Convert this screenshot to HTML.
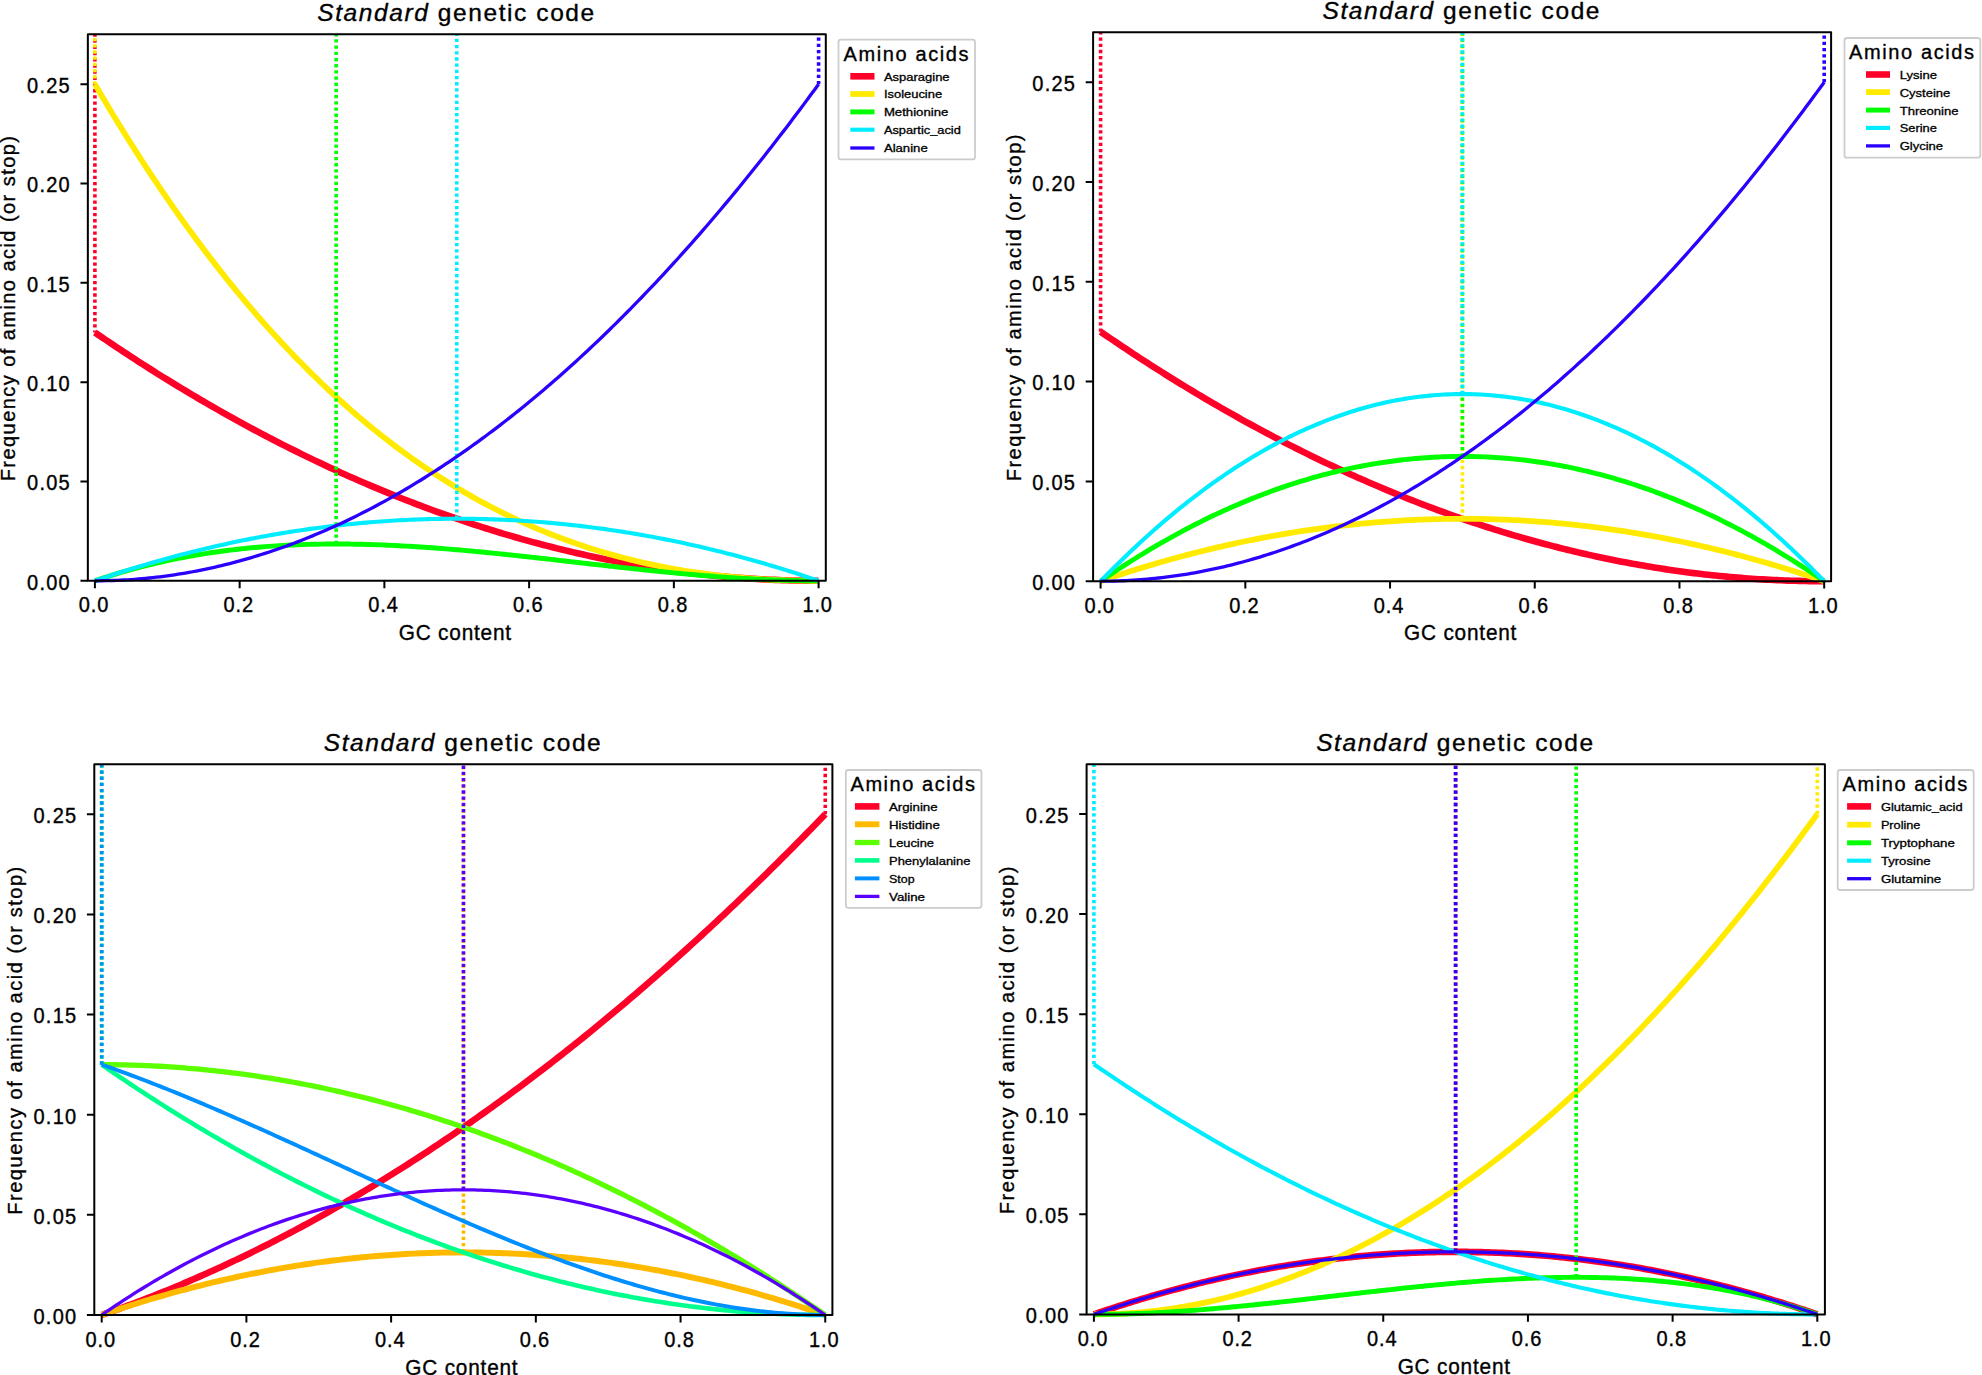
<!DOCTYPE html>
<html lang="en">
<head>
<meta charset="utf-8">
<title>Standard genetic code - amino acid frequency vs GC content</title>
<style>
html,body{margin:0;padding:0;background:#fff;}
body{width:1982px;height:1375px;overflow:hidden;}
svg{display:block;}
text{font-family:'Liberation Sans', sans-serif;fill:#000;}
</style>
</head>
<body>
<svg width="1982" height="1375" viewBox="0 0 1982 1375">
<rect width="1982" height="1375" fill="#fff"/>
<g id="chart1">
<path d="M94.9 332.5 L98.52 334.98 L102.14 337.44 L105.76 339.89 L109.37 342.33 L112.99 344.76 L116.61 347.17 L120.23 349.58 L123.85 351.97 L127.47 354.34 L131.09 356.71 L134.7 359.06 L138.32 361.4 L141.94 363.73 L145.56 366.05 L149.18 368.35 L152.8 370.64 L156.41 372.92 L160.03 375.18 L163.65 377.44 L167.27 379.68 L170.89 381.91 L174.51 384.12 L178.13 386.33 L181.74 388.52 L185.36 390.7 L188.98 392.86 L192.6 395.02 L196.22 397.16 L199.84 399.29 L203.46 401.4 L207.07 403.51 L210.69 405.6 L214.31 407.68 L217.93 409.75 L221.55 411.8 L225.17 413.84 L228.78 415.87 L232.4 417.89 L236.02 419.9 L239.64 421.89 L243.26 423.87 L246.88 425.84 L250.5 427.79 L254.11 429.73 L257.73 431.66 L261.35 433.58 L264.97 435.49 L268.59 437.38 L272.21 439.26 L275.83 441.13 L279.44 442.99 L283.06 444.83 L286.68 446.66 L290.3 448.48 L293.92 450.29 L297.54 452.08 L301.15 453.86 L304.77 455.63 L308.39 457.39 L312.01 459.13 L315.63 460.86 L319.25 462.58 L322.87 464.29 L326.48 465.99 L330.1 467.67 L333.72 469.34 L337.34 471 L340.96 472.64 L344.58 474.27 L348.19 475.89 L351.81 477.5 L355.43 479.1 L359.05 480.68 L362.67 482.25 L366.29 483.81 L369.91 485.35 L373.52 486.89 L377.14 488.41 L380.76 489.92 L384.38 491.41 L388 492.9 L391.62 494.37 L395.24 495.83 L398.85 497.27 L402.47 498.71 L406.09 500.13 L409.71 501.54 L413.33 502.93 L416.95 504.32 L420.57 505.69 L424.18 507.05 L427.8 508.4 L431.42 509.73 L435.04 511.05 L438.66 512.36 L442.28 513.66 L445.89 514.94 L449.51 516.22 L453.13 517.48 L456.75 518.72 L460.37 519.96 L463.99 521.18 L467.61 522.39 L471.22 523.59 L474.84 524.78 L478.46 525.95 L482.08 527.11 L485.7 528.26 L489.32 529.4 L492.94 530.52 L496.55 531.63 L500.17 532.73 L503.79 533.82 L507.41 534.89 L511.03 535.95 L514.65 537 L518.26 538.04 L521.88 539.06 L525.5 540.07 L529.12 541.07 L532.74 542.06 L536.36 543.03 L539.98 544 L543.59 544.95 L547.21 545.88 L550.83 546.81 L554.45 547.72 L558.07 548.62 L561.69 549.51 L565.31 550.38 L568.92 551.25 L572.54 552.1 L576.16 552.93 L579.78 553.76 L583.4 554.57 L587.02 555.37 L590.63 556.16 L594.25 556.94 L597.87 557.7 L601.49 558.45 L605.11 559.19 L608.73 559.92 L612.35 560.63 L615.96 561.33 L619.58 562.02 L623.2 562.7 L626.82 563.36 L630.44 564.01 L634.06 564.65 L637.68 565.28 L641.29 565.9 L644.91 566.5 L648.53 567.09 L652.15 567.66 L655.77 568.23 L659.39 568.78 L663 569.32 L666.62 569.85 L670.24 570.37 L673.86 570.87 L677.48 571.36 L681.1 571.84 L684.72 572.3 L688.33 572.76 L691.95 573.2 L695.57 573.62 L699.19 574.04 L702.81 574.44 L706.43 574.83 L710.04 575.21 L713.66 575.58 L717.28 575.93 L720.9 576.27 L724.52 576.6 L728.14 576.92 L731.76 577.22 L735.37 577.52 L738.99 577.8 L742.61 578.06 L746.23 578.32 L749.85 578.56 L753.47 578.79 L757.09 579.01 L760.7 579.21 L764.32 579.4 L767.94 579.58 L771.56 579.75 L775.18 579.91 L778.8 580.05 L782.41 580.18 L786.03 580.3 L789.65 580.4 L793.27 580.5 L796.89 580.58 L800.51 580.64 L804.13 580.7 L807.74 580.74 L811.36 580.78 L814.98 580.79 L818.6 580.8" fill="none" stroke="#ff0029" stroke-width="6.6" stroke-linejoin="round" stroke-linecap="butt"/>
<path d="M94.9 332.5 V34.3" fill="none" stroke="#ff0029" stroke-width="3.6" stroke-dasharray="3.3 2.89" stroke-dashoffset="1.3"/>
<path d="M94.9 84.2 L98.52 90.38 L102.14 96.52 L105.76 102.6 L109.37 108.63 L112.99 114.62 L116.61 120.56 L120.23 126.45 L123.85 132.29 L127.47 138.08 L131.09 143.82 L134.7 149.52 L138.32 155.17 L141.94 160.77 L145.56 166.32 L149.18 171.83 L152.8 177.29 L156.41 182.7 L160.03 188.07 L163.65 193.39 L167.27 198.67 L170.89 203.89 L174.51 209.08 L178.13 214.22 L181.74 219.31 L185.36 224.35 L188.98 229.36 L192.6 234.31 L196.22 239.22 L199.84 244.09 L203.46 248.92 L207.07 253.7 L210.69 258.43 L214.31 263.12 L217.93 267.77 L221.55 272.38 L225.17 276.94 L228.78 281.46 L232.4 285.93 L236.02 290.37 L239.64 294.76 L243.26 299.11 L246.88 303.41 L250.5 307.68 L254.11 311.9 L257.73 316.09 L261.35 320.23 L264.97 324.33 L268.59 328.38 L272.21 332.4 L275.83 336.38 L279.44 340.32 L283.06 344.21 L286.68 348.07 L290.3 351.89 L293.92 355.67 L297.54 359.4 L301.15 363.1 L304.77 366.76 L308.39 370.38 L312.01 373.97 L315.63 377.51 L319.25 381.02 L322.87 384.48 L326.48 387.91 L330.1 391.3 L333.72 394.66 L337.34 397.98 L340.96 401.26 L344.58 404.5 L348.19 407.7 L351.81 410.87 L355.43 414.01 L359.05 417.1 L362.67 420.16 L366.29 423.19 L369.91 426.18 L373.52 429.13 L377.14 432.05 L380.76 434.93 L384.38 437.78 L388 440.59 L391.62 443.37 L395.24 446.12 L398.85 448.83 L402.47 451.5 L406.09 454.14 L409.71 456.75 L413.33 459.33 L416.95 461.87 L420.57 464.38 L424.18 466.85 L427.8 469.3 L431.42 471.71 L435.04 474.09 L438.66 476.43 L442.28 478.75 L445.89 481.03 L449.51 483.28 L453.13 485.5 L456.75 487.69 L460.37 489.84 L463.99 491.97 L467.61 494.07 L471.22 496.13 L474.84 498.17 L478.46 500.17 L482.08 502.15 L485.7 504.09 L489.32 506.01 L492.94 507.89 L496.55 509.75 L500.17 511.58 L503.79 513.38 L507.41 515.15 L511.03 516.89 L514.65 518.6 L518.26 520.29 L521.88 521.95 L525.5 523.58 L529.12 525.18 L532.74 526.76 L536.36 528.3 L539.98 529.83 L543.59 531.32 L547.21 532.79 L550.83 534.23 L554.45 535.65 L558.07 537.04 L561.69 538.4 L565.31 539.74 L568.92 541.05 L572.54 542.34 L576.16 543.6 L579.78 544.84 L583.4 546.05 L587.02 547.24 L590.63 548.4 L594.25 549.54 L597.87 550.66 L601.49 551.75 L605.11 552.82 L608.73 553.86 L612.35 554.88 L615.96 555.88 L619.58 556.86 L623.2 557.81 L626.82 558.74 L630.44 559.65 L634.06 560.54 L637.68 561.4 L641.29 562.24 L644.91 563.07 L648.53 563.87 L652.15 564.64 L655.77 565.4 L659.39 566.14 L663 566.85 L666.62 567.55 L670.24 568.23 L673.86 568.88 L677.48 569.52 L681.1 570.13 L684.72 570.73 L688.33 571.31 L691.95 571.87 L695.57 572.4 L699.19 572.92 L702.81 573.43 L706.43 573.91 L710.04 574.38 L713.66 574.82 L717.28 575.25 L720.9 575.66 L724.52 576.06 L728.14 576.44 L731.76 576.8 L735.37 577.14 L738.99 577.47 L742.61 577.78 L746.23 578.07 L749.85 578.35 L753.47 578.61 L757.09 578.85 L760.7 579.08 L764.32 579.3 L767.94 579.5 L771.56 579.68 L775.18 579.85 L778.8 580.01 L782.41 580.15 L786.03 580.27 L789.65 580.39 L793.27 580.49 L796.89 580.57 L800.51 580.64 L804.13 580.7 L807.74 580.74 L811.36 580.77 L814.98 580.79 L818.6 580.8" fill="none" stroke="#ffea00" stroke-width="5.77" stroke-linejoin="round" stroke-linecap="butt"/>
<path d="M94.9 84.2 V34.3" fill="none" stroke="#ffea00" stroke-width="3.6" stroke-dasharray="3.3 2.89" stroke-dashoffset="0.4"/>
<path d="M94.9 580.8 L98.52 579.57 L102.14 578.37 L105.76 577.19 L109.37 576.03 L112.99 574.9 L116.61 573.79 L120.23 572.71 L123.85 571.65 L127.47 570.61 L131.09 569.6 L134.7 568.6 L138.32 567.64 L141.94 566.69 L145.56 565.77 L149.18 564.87 L152.8 563.99 L156.41 563.13 L160.03 562.29 L163.65 561.48 L167.27 560.69 L170.89 559.92 L174.51 559.17 L178.13 558.44 L181.74 557.73 L185.36 557.04 L188.98 556.37 L192.6 555.72 L196.22 555.09 L199.84 554.48 L203.46 553.89 L207.07 553.32 L210.69 552.77 L214.31 552.24 L217.93 551.72 L221.55 551.23 L225.17 550.75 L228.78 550.29 L232.4 549.85 L236.02 549.42 L239.64 549.02 L243.26 548.63 L246.88 548.26 L250.5 547.9 L254.11 547.57 L257.73 547.24 L261.35 546.94 L264.97 546.65 L268.59 546.38 L272.21 546.12 L275.83 545.88 L279.44 545.66 L283.06 545.45 L286.68 545.25 L290.3 545.07 L293.92 544.91 L297.54 544.76 L301.15 544.62 L304.77 544.5 L308.39 544.39 L312.01 544.3 L315.63 544.22 L319.25 544.15 L322.87 544.1 L326.48 544.06 L330.1 544.03 L333.72 544.02 L337.34 544.02 L340.96 544.03 L344.58 544.05 L348.19 544.08 L351.81 544.13 L355.43 544.19 L359.05 544.26 L362.67 544.34 L366.29 544.43 L369.91 544.53 L373.52 544.64 L377.14 544.77 L380.76 544.9 L384.38 545.04 L388 545.2 L391.62 545.36 L395.24 545.54 L398.85 545.72 L402.47 545.91 L406.09 546.11 L409.71 546.32 L413.33 546.54 L416.95 546.77 L420.57 547 L424.18 547.24 L427.8 547.49 L431.42 547.75 L435.04 548.02 L438.66 548.29 L442.28 548.57 L445.89 548.86 L449.51 549.15 L453.13 549.46 L456.75 549.76 L460.37 550.08 L463.99 550.4 L467.61 550.72 L471.22 551.05 L474.84 551.39 L478.46 551.73 L482.08 552.08 L485.7 552.43 L489.32 552.78 L492.94 553.15 L496.55 553.51 L500.17 553.88 L503.79 554.25 L507.41 554.63 L511.03 555.01 L514.65 555.4 L518.26 555.78 L521.88 556.17 L525.5 556.57 L529.12 556.96 L532.74 557.36 L536.36 557.76 L539.98 558.17 L543.59 558.57 L547.21 558.98 L550.83 559.38 L554.45 559.79 L558.07 560.21 L561.69 560.62 L565.31 561.03 L568.92 561.44 L572.54 561.86 L576.16 562.27 L579.78 562.68 L583.4 563.1 L587.02 563.51 L590.63 563.92 L594.25 564.34 L597.87 564.75 L601.49 565.16 L605.11 565.57 L608.73 565.97 L612.35 566.38 L615.96 566.78 L619.58 567.19 L623.2 567.59 L626.82 567.98 L630.44 568.38 L634.06 568.77 L637.68 569.16 L641.29 569.55 L644.91 569.93 L648.53 570.31 L652.15 570.69 L655.77 571.06 L659.39 571.43 L663 571.79 L666.62 572.15 L670.24 572.5 L673.86 572.85 L677.48 573.2 L681.1 573.54 L684.72 573.87 L688.33 574.2 L691.95 574.53 L695.57 574.84 L699.19 575.16 L702.81 575.46 L706.43 575.76 L710.04 576.05 L713.66 576.34 L717.28 576.61 L720.9 576.89 L724.52 577.15 L728.14 577.41 L731.76 577.65 L735.37 577.89 L738.99 578.13 L742.61 578.35 L746.23 578.57 L749.85 578.77 L753.47 578.97 L757.09 579.16 L760.7 579.34 L764.32 579.51 L767.94 579.67 L771.56 579.82 L775.18 579.96 L778.8 580.09 L782.41 580.21 L786.03 580.32 L789.65 580.42 L793.27 580.51 L796.89 580.58 L800.51 580.65 L804.13 580.7 L807.74 580.74 L811.36 580.78 L814.98 580.79 L818.6 580.8" fill="none" stroke="#00ff00" stroke-width="4.95" stroke-linejoin="round" stroke-linecap="butt"/>
<path d="M336.13 544.01 V34.3" fill="none" stroke="#00ff00" stroke-width="3.6" stroke-dasharray="3.3 2.89" stroke-dashoffset="0"/>
<path d="M94.9 580.8 L98.52 579.56 L102.14 578.34 L105.76 577.13 L109.37 575.93 L112.99 574.75 L116.61 573.57 L120.23 572.41 L123.85 571.27 L127.47 570.13 L131.09 569.01 L134.7 567.89 L138.32 566.8 L141.94 565.71 L145.56 564.64 L149.18 563.57 L152.8 562.53 L156.41 561.49 L160.03 560.46 L163.65 559.45 L167.27 558.45 L170.89 557.47 L174.51 556.49 L178.13 555.53 L181.74 554.58 L185.36 553.64 L188.98 552.72 L192.6 551.8 L196.22 550.9 L199.84 550.02 L203.46 549.14 L207.07 548.28 L210.69 547.43 L214.31 546.59 L217.93 545.76 L221.55 544.95 L225.17 544.15 L228.78 543.36 L232.4 542.59 L236.02 541.82 L239.64 541.07 L243.26 540.33 L246.88 539.61 L250.5 538.89 L254.11 538.19 L257.73 537.5 L261.35 536.83 L264.97 536.16 L268.59 535.51 L272.21 534.87 L275.83 534.24 L279.44 533.63 L283.06 533.03 L286.68 532.44 L290.3 531.86 L293.92 531.3 L297.54 530.74 L301.15 530.2 L304.77 529.68 L308.39 529.16 L312.01 528.66 L315.63 528.17 L319.25 527.69 L322.87 527.22 L326.48 526.77 L330.1 526.33 L333.72 525.9 L337.34 525.48 L340.96 525.08 L344.58 524.69 L348.19 524.31 L351.81 523.95 L355.43 523.59 L359.05 523.25 L362.67 522.92 L366.29 522.6 L369.91 522.3 L373.52 522.01 L377.14 521.73 L380.76 521.46 L384.38 521.21 L388 520.97 L391.62 520.74 L395.24 520.52 L398.85 520.31 L402.47 520.12 L406.09 519.94 L409.71 519.77 L413.33 519.62 L416.95 519.48 L420.57 519.35 L424.18 519.23 L427.8 519.12 L431.42 519.03 L435.04 518.95 L438.66 518.88 L442.28 518.82 L445.89 518.78 L449.51 518.75 L453.13 518.73 L456.75 518.72 L460.37 518.73 L463.99 518.75 L467.61 518.78 L471.22 518.82 L474.84 518.88 L478.46 518.95 L482.08 519.03 L485.7 519.12 L489.32 519.23 L492.94 519.35 L496.55 519.48 L500.17 519.62 L503.79 519.77 L507.41 519.94 L511.03 520.12 L514.65 520.31 L518.26 520.52 L521.88 520.74 L525.5 520.97 L529.12 521.21 L532.74 521.46 L536.36 521.73 L539.98 522.01 L543.59 522.3 L547.21 522.6 L550.83 522.92 L554.45 523.25 L558.07 523.59 L561.69 523.95 L565.31 524.31 L568.92 524.69 L572.54 525.08 L576.16 525.48 L579.78 525.9 L583.4 526.33 L587.02 526.77 L590.63 527.22 L594.25 527.69 L597.87 528.17 L601.49 528.66 L605.11 529.16 L608.73 529.68 L612.35 530.2 L615.96 530.74 L619.58 531.3 L623.2 531.86 L626.82 532.44 L630.44 533.03 L634.06 533.63 L637.68 534.24 L641.29 534.87 L644.91 535.51 L648.53 536.16 L652.15 536.83 L655.77 537.5 L659.39 538.19 L663 538.89 L666.62 539.61 L670.24 540.33 L673.86 541.07 L677.48 541.82 L681.1 542.59 L684.72 543.36 L688.33 544.15 L691.95 544.95 L695.57 545.76 L699.19 546.59 L702.81 547.43 L706.43 548.28 L710.04 549.14 L713.66 550.02 L717.28 550.9 L720.9 551.8 L724.52 552.72 L728.14 553.64 L731.76 554.58 L735.37 555.53 L738.99 556.49 L742.61 557.47 L746.23 558.45 L749.85 559.45 L753.47 560.46 L757.09 561.49 L760.7 562.53 L764.32 563.57 L767.94 564.64 L771.56 565.71 L775.18 566.8 L778.8 567.89 L782.41 569.01 L786.03 570.13 L789.65 571.27 L793.27 572.41 L796.89 573.57 L800.51 574.75 L804.13 575.93 L807.74 577.13 L811.36 578.34 L814.98 579.56 L818.6 580.8" fill="none" stroke="#00ecff" stroke-width="4.12" stroke-linejoin="round" stroke-linecap="butt"/>
<path d="M456.75 518.72 V34.3" fill="none" stroke="#00ecff" stroke-width="3.6" stroke-dasharray="3.3 2.89" stroke-dashoffset="0"/>
<path d="M94.9 580.8 L98.52 580.79 L102.14 580.75 L105.76 580.69 L109.37 580.6 L112.99 580.49 L116.61 580.35 L120.23 580.19 L123.85 580.01 L127.47 579.79 L131.09 579.56 L134.7 579.3 L138.32 579.01 L141.94 578.7 L145.56 578.37 L149.18 578.01 L152.8 577.62 L156.41 577.21 L160.03 576.78 L163.65 576.32 L167.27 575.83 L170.89 575.32 L174.51 574.79 L178.13 574.23 L181.74 573.65 L185.36 573.04 L188.98 572.41 L192.6 571.75 L196.22 571.07 L199.84 570.36 L203.46 569.63 L207.07 568.87 L210.69 568.09 L214.31 567.28 L217.93 566.45 L221.55 565.59 L225.17 564.71 L228.78 563.8 L232.4 562.87 L236.02 561.92 L239.64 560.94 L243.26 559.93 L246.88 558.9 L250.5 557.84 L254.11 556.76 L257.73 555.66 L261.35 554.53 L264.97 553.38 L268.59 552.2 L272.21 550.99 L275.83 549.76 L279.44 548.51 L283.06 547.23 L286.68 545.93 L290.3 544.6 L293.92 543.24 L297.54 541.87 L301.15 540.46 L304.77 539.04 L308.39 537.58 L312.01 536.11 L315.63 534.6 L319.25 533.08 L322.87 531.52 L326.48 529.95 L330.1 528.35 L333.72 526.72 L337.34 525.07 L340.96 523.39 L344.58 521.69 L348.19 519.97 L351.81 518.22 L355.43 516.44 L359.05 514.64 L362.67 512.82 L366.29 510.97 L369.91 509.09 L373.52 507.19 L377.14 505.27 L380.76 503.32 L384.38 501.34 L388 499.35 L391.62 497.32 L395.24 495.27 L398.85 493.2 L402.47 491.1 L406.09 488.98 L409.71 486.83 L413.33 484.66 L416.95 482.46 L420.57 480.24 L424.18 477.99 L427.8 475.72 L431.42 473.42 L435.04 471.1 L438.66 468.75 L442.28 466.38 L445.89 463.99 L449.51 461.57 L453.13 459.12 L456.75 456.65 L460.37 454.15 L463.99 451.63 L467.61 449.09 L471.22 446.52 L474.84 443.92 L478.46 441.31 L482.08 438.66 L485.7 435.99 L489.32 433.3 L492.94 430.58 L496.55 427.83 L500.17 425.07 L503.79 422.27 L507.41 419.45 L511.03 416.61 L514.65 413.74 L518.26 410.85 L521.88 407.93 L525.5 404.99 L529.12 402.02 L532.74 399.03 L536.36 396.02 L539.98 392.97 L543.59 389.91 L547.21 386.82 L550.83 383.7 L554.45 380.56 L558.07 377.39 L561.69 374.2 L565.31 370.99 L568.92 367.75 L572.54 364.48 L576.16 361.19 L579.78 357.88 L583.4 354.54 L587.02 351.17 L590.63 347.78 L594.25 344.37 L597.87 340.93 L601.49 337.47 L605.11 333.98 L608.73 330.46 L612.35 326.93 L615.96 323.36 L619.58 319.77 L623.2 316.16 L626.82 312.52 L630.44 308.86 L634.06 305.17 L637.68 301.46 L641.29 297.73 L644.91 293.96 L648.53 290.18 L652.15 286.37 L655.77 282.53 L659.39 278.67 L663 274.78 L666.62 270.87 L670.24 266.94 L673.86 262.98 L677.48 258.99 L681.1 254.98 L684.72 250.95 L688.33 246.89 L691.95 242.8 L695.57 238.69 L699.19 234.56 L702.81 230.4 L706.43 226.22 L710.04 222.01 L713.66 217.77 L717.28 213.51 L720.9 209.23 L724.52 204.92 L728.14 200.59 L731.76 196.23 L735.37 191.85 L738.99 187.44 L742.61 183.01 L746.23 178.55 L749.85 174.07 L753.47 169.57 L757.09 165.03 L760.7 160.48 L764.32 155.9 L767.94 151.29 L771.56 146.66 L775.18 142 L778.8 137.32 L782.41 132.62 L786.03 127.89 L789.65 123.13 L793.27 118.35 L796.89 113.55 L800.51 108.72 L804.13 103.87 L807.74 98.99 L811.36 94.08 L814.98 89.15 L818.6 84.2" fill="none" stroke="#2a00ff" stroke-width="3.3" stroke-linejoin="round" stroke-linecap="butt"/>
<path d="M818.6 84.2 V34.3" fill="none" stroke="#2a00ff" stroke-width="3.6" stroke-dasharray="3.3 2.89" stroke-dashoffset="0"/>
<rect x="87.85" y="34.3" width="737.95" height="546.5" fill="none" stroke="#000" stroke-width="2" stroke-linejoin="round"/>
<path d="M94.9 580.8v7.4M87.85 580.8h-7.4M239.64 580.8v7.4M87.85 481.48h-7.4M384.38 580.8v7.4M87.85 382.16h-7.4M529.12 580.8v7.4M87.85 282.84h-7.4M673.86 580.8v7.4M87.85 183.52h-7.4M818.6 580.8v7.4M87.85 84.2h-7.4" stroke="#000" stroke-width="2" fill="none"/>
<text transform="translate(93.5 612.05) scale(1 1.07)" font-size="20" text-anchor="middle" stroke="#000" stroke-width="0.35" textLength="29.6" lengthAdjust="spacing">0.0</text>
<text transform="translate(69.65 589.6) scale(1 1.07)" font-size="20" text-anchor="end" stroke="#000" stroke-width="0.35" textLength="42.6" lengthAdjust="spacing">0.00</text>
<text transform="translate(238.24 612.05) scale(1 1.07)" font-size="20" text-anchor="middle" stroke="#000" stroke-width="0.35" textLength="29.6" lengthAdjust="spacing">0.2</text>
<text transform="translate(69.65 490.28) scale(1 1.07)" font-size="20" text-anchor="end" stroke="#000" stroke-width="0.35" textLength="42.6" lengthAdjust="spacing">0.05</text>
<text transform="translate(382.98 612.05) scale(1 1.07)" font-size="20" text-anchor="middle" stroke="#000" stroke-width="0.35" textLength="29.6" lengthAdjust="spacing">0.4</text>
<text transform="translate(69.65 390.96) scale(1 1.07)" font-size="20" text-anchor="end" stroke="#000" stroke-width="0.35" textLength="42.6" lengthAdjust="spacing">0.10</text>
<text transform="translate(527.72 612.05) scale(1 1.07)" font-size="20" text-anchor="middle" stroke="#000" stroke-width="0.35" textLength="29.6" lengthAdjust="spacing">0.6</text>
<text transform="translate(69.65 291.64) scale(1 1.07)" font-size="20" text-anchor="end" stroke="#000" stroke-width="0.35" textLength="42.6" lengthAdjust="spacing">0.15</text>
<text transform="translate(672.46 612.05) scale(1 1.07)" font-size="20" text-anchor="middle" stroke="#000" stroke-width="0.35" textLength="29.6" lengthAdjust="spacing">0.8</text>
<text transform="translate(69.65 192.32) scale(1 1.07)" font-size="20" text-anchor="end" stroke="#000" stroke-width="0.35" textLength="42.6" lengthAdjust="spacing">0.20</text>
<text transform="translate(817.2 612.05) scale(1 1.07)" font-size="20" text-anchor="middle" stroke="#000" stroke-width="0.35" textLength="29.6" lengthAdjust="spacing">1.0</text>
<text transform="translate(69.65 93) scale(1 1.07)" font-size="20" text-anchor="end" stroke="#000" stroke-width="0.35" textLength="42.6" lengthAdjust="spacing">0.25</text>
<text transform="translate(454.93 639.84) scale(1 1.04)" font-size="20.8" text-anchor="middle" stroke="#000" stroke-width="0.35" textLength="112.4" lengthAdjust="spacing">GC content</text>
<text transform="translate(15.35 308.7) rotate(-90)" font-size="20" text-anchor="middle" stroke="#000" stroke-width="0.35" textLength="345.28" lengthAdjust="spacing">Frequency of amino acid (or stop)</text>
<text x="455.72" y="20.71" font-size="24.5" text-anchor="middle" stroke="#000" stroke-width="0.35" textLength="277" lengthAdjust="spacing"><tspan font-style="italic">Standard</tspan> genetic code</text>
<rect x="838.5" y="39.7" width="136.5" height="119.7" rx="2.5" fill="#fff" stroke="#cccccc" stroke-width="1.8"/>
<text x="843.6" y="60.9" font-size="20" text-anchor="start" stroke="#000" stroke-width="0.35" textLength="124.9" lengthAdjust="spacing">Amino acids</text>
<path d="M850.3 76.3H874.5" stroke="#ff0029" stroke-width="6.6" fill="none"/>
<text x="883.9" y="80.7" font-size="10.5" text-anchor="start" stroke="#000" stroke-width="0.3" textLength="65.7" lengthAdjust="spacingAndGlyphs">Asparagine</text>
<path d="M850.3 94H874.5" stroke="#ffea00" stroke-width="5.77" fill="none"/>
<text x="883.9" y="98.4" font-size="10.5" text-anchor="start" stroke="#000" stroke-width="0.3" textLength="58.2" lengthAdjust="spacingAndGlyphs">Isoleucine</text>
<path d="M850.3 111.9H874.5" stroke="#00ff00" stroke-width="4.95" fill="none"/>
<text x="883.9" y="116.3" font-size="10.5" text-anchor="start" stroke="#000" stroke-width="0.3" textLength="64.4" lengthAdjust="spacingAndGlyphs">Methionine</text>
<path d="M850.3 129.7H874.5" stroke="#00ecff" stroke-width="4.12" fill="none"/>
<text x="883.9" y="134.1" font-size="10.5" text-anchor="start" stroke="#000" stroke-width="0.3" textLength="76.9" lengthAdjust="spacingAndGlyphs">Aspartic_acid</text>
<path d="M850.3 148H874.5" stroke="#2a00ff" stroke-width="3.3" fill="none"/>
<text x="883.9" y="152.4" font-size="10.5" text-anchor="start" stroke="#000" stroke-width="0.3" textLength="43.8" lengthAdjust="spacingAndGlyphs">Alanine</text>
</g>
<g id="chart2">
<path d="M1100.6 331.7 L1104.22 334.19 L1107.84 336.67 L1111.45 339.13 L1115.07 341.58 L1118.69 344.02 L1122.31 346.45 L1125.93 348.86 L1129.54 351.26 L1133.16 353.65 L1136.78 356.03 L1140.4 358.39 L1144.02 360.74 L1147.63 363.08 L1151.25 365.41 L1154.87 367.72 L1158.49 370.02 L1162.11 372.31 L1165.72 374.59 L1169.34 376.85 L1172.96 379.11 L1176.58 381.34 L1180.2 383.57 L1183.81 385.79 L1187.43 387.99 L1191.05 390.18 L1194.67 392.35 L1198.29 394.52 L1201.9 396.67 L1205.52 398.81 L1209.14 400.94 L1212.76 403.05 L1216.38 405.15 L1219.99 407.24 L1223.61 409.32 L1227.23 411.38 L1230.85 413.44 L1234.47 415.48 L1238.08 417.5 L1241.7 419.52 L1245.32 421.52 L1248.94 423.51 L1252.56 425.49 L1256.17 427.45 L1259.79 429.4 L1263.41 431.34 L1267.03 433.27 L1270.65 435.19 L1274.26 437.09 L1277.88 438.98 L1281.5 440.86 L1285.12 442.72 L1288.74 444.57 L1292.35 446.41 L1295.97 448.24 L1299.59 450.06 L1303.21 451.86 L1306.83 453.65 L1310.44 455.43 L1314.06 457.19 L1317.68 458.95 L1321.3 460.69 L1324.92 462.41 L1328.53 464.13 L1332.15 465.83 L1335.77 467.52 L1339.39 469.2 L1343.01 470.86 L1346.62 472.52 L1350.24 474.16 L1353.86 475.79 L1357.48 477.4 L1361.1 479 L1364.71 480.6 L1368.33 482.17 L1371.95 483.74 L1375.57 485.29 L1379.19 486.83 L1382.8 488.36 L1386.42 489.88 L1390.04 491.38 L1393.66 492.87 L1397.28 494.35 L1400.89 495.81 L1404.51 497.27 L1408.13 498.71 L1411.75 500.14 L1415.37 501.55 L1418.98 502.96 L1422.6 504.35 L1426.22 505.73 L1429.84 507.09 L1433.46 508.45 L1437.07 509.79 L1440.69 511.12 L1444.31 512.43 L1447.93 513.74 L1451.55 515.03 L1455.16 516.31 L1458.78 517.57 L1462.4 518.83 L1466.02 520.07 L1469.64 521.3 L1473.25 522.51 L1476.87 523.72 L1480.49 524.91 L1484.11 526.09 L1487.73 527.25 L1491.34 528.41 L1494.96 529.55 L1498.58 530.68 L1502.2 531.79 L1505.82 532.9 L1509.43 533.99 L1513.05 535.07 L1516.67 536.13 L1520.29 537.19 L1523.91 538.23 L1527.52 539.26 L1531.14 540.28 L1534.76 541.28 L1538.38 542.27 L1542 543.25 L1545.61 544.22 L1549.23 545.17 L1552.85 546.11 L1556.47 547.04 L1560.09 547.96 L1563.7 548.86 L1567.32 549.76 L1570.94 550.64 L1574.56 551.5 L1578.18 552.36 L1581.79 553.2 L1585.41 554.03 L1589.03 554.85 L1592.65 555.65 L1596.27 556.44 L1599.88 557.22 L1603.5 557.99 L1607.12 558.75 L1610.74 559.49 L1614.36 560.22 L1617.97 560.93 L1621.59 561.64 L1625.21 562.33 L1628.83 563.01 L1632.45 563.68 L1636.06 564.33 L1639.68 564.98 L1643.3 565.61 L1646.92 566.22 L1650.54 566.83 L1654.15 567.42 L1657.77 568 L1661.39 568.57 L1665.01 569.12 L1668.63 569.67 L1672.24 570.2 L1675.86 570.71 L1679.48 571.22 L1683.1 571.71 L1686.72 572.19 L1690.33 572.66 L1693.95 573.12 L1697.57 573.56 L1701.19 573.99 L1704.81 574.41 L1708.42 574.81 L1712.04 575.21 L1715.66 575.59 L1719.28 575.95 L1722.9 576.31 L1726.51 576.65 L1730.13 576.98 L1733.75 577.3 L1737.37 577.61 L1740.99 577.9 L1744.6 578.18 L1748.22 578.45 L1751.84 578.71 L1755.46 578.95 L1759.08 579.18 L1762.69 579.4 L1766.31 579.6 L1769.93 579.8 L1773.55 579.98 L1777.17 580.15 L1780.78 580.3 L1784.4 580.45 L1788.02 580.58 L1791.64 580.69 L1795.26 580.8 L1798.87 580.89 L1802.49 580.98 L1806.11 581.04 L1809.73 581.1 L1813.35 581.14 L1816.96 581.18 L1820.58 581.19 L1824.2 581.2" fill="none" stroke="#ff0029" stroke-width="6.6" stroke-linejoin="round" stroke-linecap="butt"/>
<path d="M1100.6 331.7 V32.3" fill="none" stroke="#ff0029" stroke-width="3.6" stroke-dasharray="3.3 2.89" stroke-dashoffset="0"/>
<path d="M1100.6 581.2 L1104.22 579.96 L1107.84 578.73 L1111.45 577.51 L1115.07 576.31 L1118.69 575.12 L1122.31 573.94 L1125.93 572.77 L1129.54 571.62 L1133.16 570.48 L1136.78 569.35 L1140.4 568.23 L1144.02 567.13 L1147.63 566.04 L1151.25 564.96 L1154.87 563.89 L1158.49 562.84 L1162.11 561.8 L1165.72 560.77 L1169.34 559.75 L1172.96 558.75 L1176.58 557.75 L1180.2 556.77 L1183.81 555.81 L1187.43 554.85 L1191.05 553.91 L1194.67 552.98 L1198.29 552.06 L1201.9 551.16 L1205.52 550.27 L1209.14 549.39 L1212.76 548.52 L1216.38 547.67 L1219.99 546.83 L1223.61 546 L1227.23 545.18 L1230.85 544.37 L1234.47 543.58 L1238.08 542.8 L1241.7 542.03 L1245.32 541.28 L1248.94 540.54 L1252.56 539.81 L1256.17 539.09 L1259.79 538.39 L1263.41 537.69 L1267.03 537.01 L1270.65 536.35 L1274.26 535.69 L1277.88 535.05 L1281.5 534.42 L1285.12 533.8 L1288.74 533.2 L1292.35 532.6 L1295.97 532.02 L1299.59 531.46 L1303.21 530.9 L1306.83 530.36 L1310.44 529.83 L1314.06 529.31 L1317.68 528.81 L1321.3 528.31 L1324.92 527.83 L1328.53 527.36 L1332.15 526.91 L1335.77 526.47 L1339.39 526.04 L1343.01 525.62 L1346.62 525.21 L1350.24 524.82 L1353.86 524.44 L1357.48 524.07 L1361.1 523.72 L1364.71 523.37 L1368.33 523.04 L1371.95 522.72 L1375.57 522.42 L1379.19 522.12 L1382.8 521.84 L1386.42 521.58 L1390.04 521.32 L1393.66 521.08 L1397.28 520.85 L1400.89 520.63 L1404.51 520.42 L1408.13 520.23 L1411.75 520.05 L1415.37 519.88 L1418.98 519.72 L1422.6 519.58 L1426.22 519.45 L1429.84 519.33 L1433.46 519.22 L1437.07 519.13 L1440.69 519.05 L1444.31 518.98 L1447.93 518.92 L1451.55 518.88 L1455.16 518.85 L1458.78 518.83 L1462.4 518.83 L1466.02 518.83 L1469.64 518.85 L1473.25 518.88 L1476.87 518.92 L1480.49 518.98 L1484.11 519.05 L1487.73 519.13 L1491.34 519.22 L1494.96 519.33 L1498.58 519.45 L1502.2 519.58 L1505.82 519.72 L1509.43 519.88 L1513.05 520.05 L1516.67 520.23 L1520.29 520.42 L1523.91 520.63 L1527.52 520.85 L1531.14 521.08 L1534.76 521.32 L1538.38 521.58 L1542 521.84 L1545.61 522.12 L1549.23 522.42 L1552.85 522.72 L1556.47 523.04 L1560.09 523.37 L1563.7 523.72 L1567.32 524.07 L1570.94 524.44 L1574.56 524.82 L1578.18 525.21 L1581.79 525.62 L1585.41 526.04 L1589.03 526.47 L1592.65 526.91 L1596.27 527.36 L1599.88 527.83 L1603.5 528.31 L1607.12 528.81 L1610.74 529.31 L1614.36 529.83 L1617.97 530.36 L1621.59 530.9 L1625.21 531.46 L1628.83 532.02 L1632.45 532.6 L1636.06 533.2 L1639.68 533.8 L1643.3 534.42 L1646.92 535.05 L1650.54 535.69 L1654.15 536.35 L1657.77 537.01 L1661.39 537.69 L1665.01 538.39 L1668.63 539.09 L1672.24 539.81 L1675.86 540.54 L1679.48 541.28 L1683.1 542.03 L1686.72 542.8 L1690.33 543.58 L1693.95 544.37 L1697.57 545.18 L1701.19 546 L1704.81 546.83 L1708.42 547.67 L1712.04 548.52 L1715.66 549.39 L1719.28 550.27 L1722.9 551.16 L1726.51 552.06 L1730.13 552.98 L1733.75 553.91 L1737.37 554.85 L1740.99 555.81 L1744.6 556.77 L1748.22 557.75 L1751.84 558.75 L1755.46 559.75 L1759.08 560.77 L1762.69 561.8 L1766.31 562.84 L1769.93 563.89 L1773.55 564.96 L1777.17 566.04 L1780.78 567.13 L1784.4 568.23 L1788.02 569.35 L1791.64 570.48 L1795.26 571.62 L1798.87 572.77 L1802.49 573.94 L1806.11 575.12 L1809.73 576.31 L1813.35 577.51 L1816.96 578.73 L1820.58 579.96 L1824.2 581.2" fill="none" stroke="#ffea00" stroke-width="5.77" stroke-linejoin="round" stroke-linecap="butt"/>
<path d="M1462.4 518.83 V32.3" fill="none" stroke="#ffea00" stroke-width="3.6" stroke-dasharray="3.3 2.89" stroke-dashoffset="0"/>
<path d="M1100.6 581.2 L1104.22 578.72 L1107.84 576.26 L1111.45 573.83 L1115.07 571.42 L1118.69 569.04 L1122.31 566.68 L1125.93 564.35 L1129.54 562.04 L1133.16 559.76 L1136.78 557.5 L1140.4 555.26 L1144.02 553.06 L1147.63 550.87 L1151.25 548.72 L1154.87 546.58 L1158.49 544.47 L1162.11 542.39 L1165.72 540.33 L1169.34 538.3 L1172.96 536.29 L1176.58 534.31 L1180.2 532.35 L1183.81 530.41 L1187.43 528.51 L1191.05 526.62 L1194.67 524.76 L1198.29 522.93 L1201.9 521.12 L1205.52 519.34 L1209.14 517.58 L1212.76 515.84 L1216.38 514.13 L1219.99 512.45 L1223.61 510.79 L1227.23 509.16 L1230.85 507.55 L1234.47 505.96 L1238.08 504.4 L1241.7 502.87 L1245.32 501.36 L1248.94 499.88 L1252.56 498.42 L1256.17 496.98 L1259.79 495.57 L1263.41 494.19 L1267.03 492.83 L1270.65 491.49 L1274.26 490.18 L1277.88 488.9 L1281.5 487.64 L1285.12 486.4 L1288.74 485.19 L1292.35 484.01 L1295.97 482.85 L1299.59 481.71 L1303.21 480.6 L1306.83 479.52 L1310.44 478.46 L1314.06 477.42 L1317.68 476.41 L1321.3 475.42 L1324.92 474.46 L1328.53 473.53 L1332.15 472.62 L1335.77 471.73 L1339.39 470.87 L1343.01 470.04 L1346.62 469.22 L1350.24 468.44 L1353.86 467.68 L1357.48 466.94 L1361.1 466.23 L1364.71 465.54 L1368.33 464.88 L1371.95 464.25 L1375.57 463.64 L1379.19 463.05 L1382.8 462.49 L1386.42 461.95 L1390.04 461.44 L1393.66 460.95 L1397.28 460.49 L1400.89 460.06 L1404.51 459.64 L1408.13 459.26 L1411.75 458.9 L1415.37 458.56 L1418.98 458.25 L1422.6 457.96 L1426.22 457.7 L1429.84 457.46 L1433.46 457.25 L1437.07 457.06 L1440.69 456.9 L1444.31 456.76 L1447.93 456.65 L1451.55 456.56 L1455.16 456.5 L1458.78 456.46 L1462.4 456.45 L1466.02 456.46 L1469.64 456.5 L1473.25 456.56 L1476.87 456.65 L1480.49 456.76 L1484.11 456.9 L1487.73 457.06 L1491.34 457.25 L1494.96 457.46 L1498.58 457.7 L1502.2 457.96 L1505.82 458.25 L1509.43 458.56 L1513.05 458.9 L1516.67 459.26 L1520.29 459.64 L1523.91 460.06 L1527.52 460.49 L1531.14 460.95 L1534.76 461.44 L1538.38 461.95 L1542 462.49 L1545.61 463.05 L1549.23 463.64 L1552.85 464.25 L1556.47 464.88 L1560.09 465.54 L1563.7 466.23 L1567.32 466.94 L1570.94 467.68 L1574.56 468.44 L1578.18 469.22 L1581.79 470.04 L1585.41 470.87 L1589.03 471.73 L1592.65 472.62 L1596.27 473.53 L1599.88 474.46 L1603.5 475.42 L1607.12 476.41 L1610.74 477.42 L1614.36 478.46 L1617.97 479.52 L1621.59 480.6 L1625.21 481.71 L1628.83 482.85 L1632.45 484.01 L1636.06 485.19 L1639.68 486.4 L1643.3 487.64 L1646.92 488.9 L1650.54 490.18 L1654.15 491.49 L1657.77 492.83 L1661.39 494.19 L1665.01 495.57 L1668.63 496.98 L1672.24 498.42 L1675.86 499.88 L1679.48 501.36 L1683.1 502.87 L1686.72 504.4 L1690.33 505.96 L1693.95 507.55 L1697.57 509.16 L1701.19 510.79 L1704.81 512.45 L1708.42 514.13 L1712.04 515.84 L1715.66 517.58 L1719.28 519.34 L1722.9 521.12 L1726.51 522.93 L1730.13 524.76 L1733.75 526.62 L1737.37 528.51 L1740.99 530.41 L1744.6 532.35 L1748.22 534.31 L1751.84 536.29 L1755.46 538.3 L1759.08 540.33 L1762.69 542.39 L1766.31 544.47 L1769.93 546.58 L1773.55 548.72 L1777.17 550.87 L1780.78 553.06 L1784.4 555.26 L1788.02 557.5 L1791.64 559.76 L1795.26 562.04 L1798.87 564.35 L1802.49 566.68 L1806.11 569.04 L1809.73 571.42 L1813.35 573.83 L1816.96 576.26 L1820.58 578.72 L1824.2 581.2" fill="none" stroke="#00ff00" stroke-width="4.95" stroke-linejoin="round" stroke-linecap="butt"/>
<path d="M1462.4 456.45 V32.3" fill="none" stroke="#00ff00" stroke-width="3.6" stroke-dasharray="3.3 2.89" stroke-dashoffset="0"/>
<path d="M1100.6 581.2 L1104.22 577.48 L1107.84 573.79 L1111.45 570.14 L1115.07 566.53 L1118.69 562.96 L1122.31 559.42 L1125.93 555.92 L1129.54 552.46 L1133.16 549.03 L1136.78 545.65 L1140.4 542.3 L1144.02 538.98 L1147.63 535.71 L1151.25 532.47 L1154.87 529.27 L1158.49 526.11 L1162.11 522.99 L1165.72 519.9 L1169.34 516.85 L1172.96 513.84 L1176.58 510.86 L1180.2 507.92 L1183.81 505.02 L1187.43 502.16 L1191.05 499.33 L1194.67 496.54 L1198.29 493.79 L1201.9 491.08 L1205.52 488.4 L1209.14 485.77 L1212.76 483.17 L1216.38 480.6 L1219.99 478.08 L1223.61 475.59 L1227.23 473.14 L1230.85 470.72 L1234.47 468.34 L1238.08 466.01 L1241.7 463.7 L1245.32 461.44 L1248.94 459.21 L1252.56 457.02 L1256.17 454.87 L1259.79 452.76 L1263.41 450.68 L1267.03 448.64 L1270.65 446.64 L1274.26 444.67 L1277.88 442.75 L1281.5 440.86 L1285.12 439 L1288.74 437.19 L1292.35 435.41 L1295.97 433.67 L1299.59 431.97 L1303.21 430.3 L1306.83 428.67 L1310.44 427.08 L1314.06 425.53 L1317.68 424.02 L1321.3 422.54 L1324.92 421.1 L1328.53 419.69 L1332.15 418.33 L1335.77 417 L1339.39 415.71 L1343.01 414.45 L1346.62 413.24 L1350.24 412.06 L1353.86 410.92 L1357.48 409.81 L1361.1 408.75 L1364.71 407.72 L1368.33 406.72 L1371.95 405.77 L1375.57 404.85 L1379.19 403.97 L1382.8 403.13 L1386.42 402.33 L1390.04 401.56 L1393.66 400.83 L1397.28 400.14 L1400.89 399.48 L1404.51 398.87 L1408.13 398.29 L1411.75 397.74 L1415.37 397.24 L1418.98 396.77 L1422.6 396.34 L1426.22 395.95 L1429.84 395.59 L1433.46 395.27 L1437.07 394.99 L1440.69 394.75 L1444.31 394.54 L1447.93 394.37 L1451.55 394.24 L1455.16 394.15 L1458.78 394.09 L1462.4 394.08 L1466.02 394.09 L1469.64 394.15 L1473.25 394.24 L1476.87 394.37 L1480.49 394.54 L1484.11 394.75 L1487.73 394.99 L1491.34 395.27 L1494.96 395.59 L1498.58 395.95 L1502.2 396.34 L1505.82 396.77 L1509.43 397.24 L1513.05 397.74 L1516.67 398.29 L1520.29 398.87 L1523.91 399.48 L1527.52 400.14 L1531.14 400.83 L1534.76 401.56 L1538.38 402.33 L1542 403.13 L1545.61 403.97 L1549.23 404.85 L1552.85 405.77 L1556.47 406.72 L1560.09 407.72 L1563.7 408.75 L1567.32 409.81 L1570.94 410.92 L1574.56 412.06 L1578.18 413.24 L1581.79 414.45 L1585.41 415.71 L1589.03 417 L1592.65 418.33 L1596.27 419.69 L1599.88 421.1 L1603.5 422.54 L1607.12 424.01 L1610.74 425.53 L1614.36 427.08 L1617.97 428.67 L1621.59 430.3 L1625.21 431.97 L1628.83 433.67 L1632.45 435.41 L1636.06 437.19 L1639.68 439 L1643.3 440.86 L1646.92 442.75 L1650.54 444.67 L1654.15 446.64 L1657.77 448.64 L1661.39 450.68 L1665.01 452.76 L1668.63 454.87 L1672.24 457.02 L1675.86 459.21 L1679.48 461.44 L1683.1 463.7 L1686.72 466.01 L1690.33 468.34 L1693.95 470.72 L1697.57 473.14 L1701.19 475.59 L1704.81 478.08 L1708.42 480.6 L1712.04 483.17 L1715.66 485.77 L1719.28 488.4 L1722.9 491.08 L1726.51 493.79 L1730.13 496.54 L1733.75 499.33 L1737.37 502.16 L1740.99 505.02 L1744.6 507.92 L1748.22 510.86 L1751.84 513.84 L1755.46 516.85 L1759.08 519.9 L1762.69 522.99 L1766.31 526.11 L1769.93 529.27 L1773.55 532.47 L1777.17 535.71 L1780.78 538.98 L1784.4 542.3 L1788.02 545.65 L1791.64 549.03 L1795.26 552.46 L1798.87 555.92 L1802.49 559.42 L1806.11 562.96 L1809.73 566.53 L1813.35 570.14 L1816.96 573.79 L1820.58 577.48 L1824.2 581.2" fill="none" stroke="#00ecff" stroke-width="4.12" stroke-linejoin="round" stroke-linecap="butt"/>
<path d="M1462.4 394.08 V32.3" fill="none" stroke="#00ecff" stroke-width="3.6" stroke-dasharray="3.3 2.89" stroke-dashoffset="0"/>
<path d="M1100.6 581.2 L1104.22 581.19 L1107.84 581.15 L1111.45 581.09 L1115.07 581 L1118.69 580.89 L1122.31 580.75 L1125.93 580.59 L1129.54 580.4 L1133.16 580.19 L1136.78 579.95 L1140.4 579.69 L1144.02 579.4 L1147.63 579.09 L1151.25 578.75 L1154.87 578.39 L1158.49 578.01 L1162.11 577.59 L1165.72 577.16 L1169.34 576.7 L1172.96 576.21 L1176.58 575.7 L1180.2 575.16 L1183.81 574.6 L1187.43 574.01 L1191.05 573.4 L1194.67 572.77 L1198.29 572.11 L1201.9 571.42 L1205.52 570.71 L1209.14 569.97 L1212.76 569.21 L1216.38 568.43 L1219.99 567.61 L1223.61 566.78 L1227.23 565.92 L1230.85 565.03 L1234.47 564.12 L1238.08 563.19 L1241.7 562.23 L1245.32 561.24 L1248.94 560.23 L1252.56 559.19 L1256.17 558.13 L1259.79 557.05 L1263.41 555.94 L1267.03 554.8 L1270.65 553.64 L1274.26 552.46 L1277.88 551.25 L1281.5 550.01 L1285.12 548.75 L1288.74 547.47 L1292.35 546.16 L1295.97 544.82 L1299.59 543.46 L1303.21 542.08 L1306.83 540.67 L1310.44 539.23 L1314.06 537.77 L1317.68 536.29 L1321.3 534.78 L1324.92 533.25 L1328.53 531.69 L1332.15 530.1 L1335.77 528.49 L1339.39 526.86 L1343.01 525.2 L1346.62 523.52 L1350.24 521.81 L1353.86 520.07 L1357.48 518.31 L1361.1 516.53 L1364.71 514.72 L1368.33 512.89 L1371.95 511.03 L1375.57 509.14 L1379.19 507.24 L1382.8 505.3 L1386.42 503.34 L1390.04 501.36 L1393.66 499.35 L1397.28 497.32 L1400.89 495.26 L1404.51 493.18 L1408.13 491.07 L1411.75 488.93 L1415.37 486.78 L1418.98 484.59 L1422.6 482.39 L1426.22 480.15 L1429.84 477.89 L1433.46 475.61 L1437.07 473.3 L1440.69 470.97 L1444.31 468.61 L1447.93 466.23 L1451.55 463.82 L1455.16 461.39 L1458.78 458.93 L1462.4 456.45 L1466.02 453.94 L1469.64 451.41 L1473.25 448.85 L1476.87 446.27 L1480.49 443.66 L1484.11 441.03 L1487.73 438.37 L1491.34 435.69 L1494.96 432.98 L1498.58 430.25 L1502.2 427.5 L1505.82 424.71 L1509.43 421.91 L1513.05 419.07 L1516.67 416.22 L1520.29 413.34 L1523.91 410.43 L1527.52 407.5 L1531.14 404.54 L1534.76 401.56 L1538.38 398.55 L1542 395.52 L1545.61 392.47 L1549.23 389.38 L1552.85 386.28 L1556.47 383.15 L1560.09 379.99 L1563.7 376.81 L1567.32 373.6 L1570.94 370.37 L1574.56 367.12 L1578.18 363.84 L1581.79 360.53 L1585.41 357.2 L1589.03 353.84 L1592.65 350.46 L1596.27 347.06 L1599.88 343.63 L1603.5 340.17 L1607.12 336.69 L1610.74 333.18 L1614.36 329.65 L1617.97 326.1 L1621.59 322.52 L1625.21 318.91 L1628.83 315.28 L1632.45 311.63 L1636.06 307.95 L1639.68 304.24 L1643.3 300.51 L1646.92 296.76 L1650.54 292.98 L1654.15 289.17 L1657.77 285.34 L1661.39 281.49 L1665.01 277.61 L1668.63 273.7 L1672.24 269.77 L1675.86 265.82 L1679.48 261.84 L1683.1 257.84 L1686.72 253.81 L1690.33 249.75 L1693.95 245.67 L1697.57 241.57 L1701.19 237.44 L1704.81 233.28 L1708.42 229.11 L1712.04 224.9 L1715.66 220.67 L1719.28 216.42 L1722.9 212.14 L1726.51 207.84 L1730.13 203.51 L1733.75 199.15 L1737.37 194.77 L1740.99 190.37 L1744.6 185.94 L1748.22 181.49 L1751.84 177.01 L1755.46 172.51 L1759.08 167.98 L1762.69 163.42 L1766.31 158.85 L1769.93 154.24 L1773.55 149.61 L1777.17 144.96 L1780.78 140.28 L1784.4 135.58 L1788.02 130.85 L1791.64 126.1 L1795.26 121.32 L1798.87 116.52 L1802.49 111.69 L1806.11 106.84 L1809.73 101.96 L1813.35 97.06 L1816.96 92.13 L1820.58 87.18 L1824.2 82.2" fill="none" stroke="#2a00ff" stroke-width="3.3" stroke-linejoin="round" stroke-linecap="butt"/>
<path d="M1824.2 82.2 V32.3" fill="none" stroke="#2a00ff" stroke-width="3.6" stroke-dasharray="3.3 2.89" stroke-dashoffset="0"/>
<rect x="1093.1" y="32.3" width="738" height="548.9" fill="none" stroke="#000" stroke-width="2" stroke-linejoin="round"/>
<path d="M1100.6 581.2v7.4M1093.1 581.2h-7.4M1245.32 581.2v7.4M1093.1 481.4h-7.4M1390.04 581.2v7.4M1093.1 381.6h-7.4M1534.76 581.2v7.4M1093.1 281.8h-7.4M1679.48 581.2v7.4M1093.1 182h-7.4M1824.2 581.2v7.4M1093.1 82.2h-7.4" stroke="#000" stroke-width="2" fill="none"/>
<text transform="translate(1099.2 612.59) scale(1 1.08)" font-size="20" text-anchor="middle" stroke="#000" stroke-width="0.35" textLength="29.6" lengthAdjust="spacing">0.0</text>
<text transform="translate(1074.9 590) scale(1 1.08)" font-size="20" text-anchor="end" stroke="#000" stroke-width="0.35" textLength="42.6" lengthAdjust="spacing">0.00</text>
<text transform="translate(1243.92 612.59) scale(1 1.08)" font-size="20" text-anchor="middle" stroke="#000" stroke-width="0.35" textLength="29.6" lengthAdjust="spacing">0.2</text>
<text transform="translate(1074.9 490.2) scale(1 1.08)" font-size="20" text-anchor="end" stroke="#000" stroke-width="0.35" textLength="42.6" lengthAdjust="spacing">0.05</text>
<text transform="translate(1388.64 612.59) scale(1 1.08)" font-size="20" text-anchor="middle" stroke="#000" stroke-width="0.35" textLength="29.6" lengthAdjust="spacing">0.4</text>
<text transform="translate(1074.9 390.4) scale(1 1.08)" font-size="20" text-anchor="end" stroke="#000" stroke-width="0.35" textLength="42.6" lengthAdjust="spacing">0.10</text>
<text transform="translate(1533.36 612.59) scale(1 1.08)" font-size="20" text-anchor="middle" stroke="#000" stroke-width="0.35" textLength="29.6" lengthAdjust="spacing">0.6</text>
<text transform="translate(1074.9 290.6) scale(1 1.08)" font-size="20" text-anchor="end" stroke="#000" stroke-width="0.35" textLength="42.6" lengthAdjust="spacing">0.15</text>
<text transform="translate(1678.08 612.59) scale(1 1.08)" font-size="20" text-anchor="middle" stroke="#000" stroke-width="0.35" textLength="29.6" lengthAdjust="spacing">0.8</text>
<text transform="translate(1074.9 190.8) scale(1 1.08)" font-size="20" text-anchor="end" stroke="#000" stroke-width="0.35" textLength="42.6" lengthAdjust="spacing">0.20</text>
<text transform="translate(1822.8 612.59) scale(1 1.08)" font-size="20" text-anchor="middle" stroke="#000" stroke-width="0.35" textLength="29.6" lengthAdjust="spacing">1.0</text>
<text transform="translate(1074.9 91) scale(1 1.08)" font-size="20" text-anchor="end" stroke="#000" stroke-width="0.35" textLength="42.6" lengthAdjust="spacing">0.25</text>
<text transform="translate(1460.2 640.49) scale(1 1.05)" font-size="20.8" text-anchor="middle" stroke="#000" stroke-width="0.35" textLength="112.4" lengthAdjust="spacing">GC content</text>
<text transform="translate(1020.6 307.9) rotate(-90)" font-size="20" text-anchor="middle" stroke="#000" stroke-width="0.35" textLength="346.8" lengthAdjust="spacing">Frequency of amino acid (or stop)</text>
<text x="1461" y="18.65" font-size="24.5" text-anchor="middle" stroke="#000" stroke-width="0.35" textLength="277" lengthAdjust="spacing"><tspan font-style="italic">Standard</tspan> genetic code</text>
<rect x="1844.5" y="38" width="135.8" height="119.7" rx="2.5" fill="#fff" stroke="#cccccc" stroke-width="1.8"/>
<text x="1849" y="58.9" font-size="20" text-anchor="start" stroke="#000" stroke-width="0.35" textLength="125.1" lengthAdjust="spacing">Amino acids</text>
<path d="M1866 74.5H1890" stroke="#ff0029" stroke-width="6.6" fill="none"/>
<text x="1899.7" y="78.9" font-size="10.5" text-anchor="start" stroke="#000" stroke-width="0.3" textLength="37.3" lengthAdjust="spacingAndGlyphs">Lysine</text>
<path d="M1866 92.1H1890" stroke="#ffea00" stroke-width="5.77" fill="none"/>
<text x="1899.7" y="96.5" font-size="10.5" text-anchor="start" stroke="#000" stroke-width="0.3" textLength="50.6" lengthAdjust="spacingAndGlyphs">Cysteine</text>
<path d="M1866 110.1H1890" stroke="#00ff00" stroke-width="4.95" fill="none"/>
<text x="1899.7" y="114.5" font-size="10.5" text-anchor="start" stroke="#000" stroke-width="0.3" textLength="58.8" lengthAdjust="spacingAndGlyphs">Threonine</text>
<path d="M1866 127.9H1890" stroke="#00ecff" stroke-width="4.12" fill="none"/>
<text x="1899.7" y="132.3" font-size="10.5" text-anchor="start" stroke="#000" stroke-width="0.3" textLength="37.2" lengthAdjust="spacingAndGlyphs">Serine</text>
<path d="M1866 145.9H1890" stroke="#2a00ff" stroke-width="3.3" fill="none"/>
<text x="1899.7" y="150.3" font-size="10.5" text-anchor="start" stroke="#000" stroke-width="0.3" textLength="43.4" lengthAdjust="spacingAndGlyphs">Glycine</text>
</g>
<g id="chart3">
<path d="M101.7 1315 L105.32 1313.74 L108.94 1312.47 L112.55 1311.19 L116.17 1309.89 L119.79 1308.58 L123.41 1307.26 L127.02 1305.93 L130.64 1304.59 L134.26 1303.23 L137.88 1301.86 L141.5 1300.47 L145.11 1299.08 L148.73 1297.67 L152.35 1296.25 L155.97 1294.82 L159.58 1293.37 L163.2 1291.91 L166.82 1290.44 L170.44 1288.96 L174.06 1287.46 L177.67 1285.95 L181.29 1284.43 L184.91 1282.9 L188.53 1281.35 L192.14 1279.79 L195.76 1278.22 L199.38 1276.64 L203 1275.04 L206.61 1273.44 L210.23 1271.81 L213.85 1270.18 L217.47 1268.54 L221.09 1266.88 L224.7 1265.21 L228.32 1263.52 L231.94 1261.83 L235.56 1260.12 L239.17 1258.4 L242.79 1256.66 L246.41 1254.92 L250.03 1253.16 L253.65 1251.39 L257.26 1249.6 L260.88 1247.81 L264.5 1246 L268.12 1244.18 L271.73 1242.34 L275.35 1240.5 L278.97 1238.64 L282.59 1236.77 L286.21 1234.88 L289.82 1232.99 L293.44 1231.08 L297.06 1229.15 L300.68 1227.22 L304.29 1225.27 L307.91 1223.32 L311.53 1221.34 L315.15 1219.36 L318.76 1217.36 L322.38 1215.35 L326 1213.33 L329.62 1211.3 L333.24 1209.25 L336.85 1207.19 L340.47 1205.12 L344.09 1203.04 L347.71 1200.94 L351.32 1198.83 L354.94 1196.71 L358.56 1194.58 L362.18 1192.43 L365.8 1190.27 L369.41 1188.1 L373.03 1185.91 L376.65 1183.72 L380.27 1181.51 L383.88 1179.29 L387.5 1177.05 L391.12 1174.8 L394.74 1172.54 L398.36 1170.27 L401.97 1167.99 L405.59 1165.69 L409.21 1163.38 L412.83 1161.06 L416.44 1158.73 L420.06 1156.38 L423.68 1154.02 L427.3 1151.65 L430.92 1149.26 L434.53 1146.86 L438.15 1144.46 L441.77 1142.03 L445.39 1139.6 L449 1137.15 L452.62 1134.69 L456.24 1132.22 L459.86 1129.73 L463.47 1127.24 L467.09 1124.73 L470.71 1122.21 L474.33 1119.67 L477.95 1117.12 L481.56 1114.56 L485.18 1111.99 L488.8 1109.41 L492.42 1106.81 L496.03 1104.2 L499.65 1101.58 L503.27 1098.94 L506.89 1096.29 L510.51 1093.63 L514.12 1090.96 L517.74 1088.28 L521.36 1085.58 L524.98 1082.87 L528.59 1080.15 L532.21 1077.41 L535.83 1074.66 L539.45 1071.9 L543.07 1069.13 L546.68 1066.35 L550.3 1063.55 L553.92 1060.74 L557.54 1057.92 L561.15 1055.08 L564.77 1052.23 L568.39 1049.37 L572.01 1046.5 L575.63 1043.61 L579.24 1040.72 L582.86 1037.81 L586.48 1034.88 L590.1 1031.95 L593.71 1029 L597.33 1026.04 L600.95 1023.07 L604.57 1020.08 L608.18 1017.08 L611.8 1014.07 L615.42 1011.05 L619.04 1008.01 L622.66 1004.97 L626.27 1001.91 L629.89 998.83 L633.51 995.75 L637.13 992.65 L640.74 989.54 L644.36 986.42 L647.98 983.28 L651.6 980.13 L655.22 976.97 L658.83 973.8 L662.45 970.61 L666.07 967.41 L669.69 964.2 L673.3 960.98 L676.92 957.74 L680.54 954.5 L684.16 951.24 L687.78 947.96 L691.39 944.68 L695.01 941.38 L698.63 938.07 L702.25 934.74 L705.86 931.41 L709.48 928.06 L713.1 924.7 L716.72 921.32 L720.34 917.94 L723.95 914.54 L727.57 911.13 L731.19 907.71 L734.81 904.27 L738.42 900.82 L742.04 897.36 L745.66 893.89 L749.28 890.4 L752.89 886.9 L756.51 883.39 L760.13 879.87 L763.75 876.33 L767.37 872.78 L770.98 869.22 L774.6 865.65 L778.22 862.06 L781.84 858.46 L785.45 854.85 L789.07 851.23 L792.69 847.59 L796.31 843.94 L799.93 840.28 L803.54 836.61 L807.16 832.92 L810.78 829.22 L814.4 825.51 L818.01 821.79 L821.63 818.05 L825.25 814.3" fill="none" stroke="#ff0029" stroke-width="6.6" stroke-linejoin="round" stroke-linecap="butt"/>
<path d="M825.25 814.3 V764.2" fill="none" stroke="#ff0029" stroke-width="3.6" stroke-dasharray="3.3 2.89" stroke-dashoffset="0"/>
<path d="M101.7 1315 L105.32 1313.75 L108.94 1312.52 L112.55 1311.3 L116.17 1310.09 L119.79 1308.9 L123.41 1307.71 L127.02 1306.54 L130.64 1305.39 L134.26 1304.24 L137.88 1303.11 L141.5 1301.99 L145.11 1300.88 L148.73 1299.78 L152.35 1298.7 L155.97 1297.63 L159.58 1296.57 L163.2 1295.53 L166.82 1294.5 L170.44 1293.48 L174.06 1292.47 L177.67 1291.47 L181.29 1290.49 L184.91 1289.52 L188.53 1288.56 L192.14 1287.62 L195.76 1286.69 L199.38 1285.77 L203 1284.86 L206.61 1283.96 L210.23 1283.08 L213.85 1282.21 L217.47 1281.35 L221.09 1280.51 L224.7 1279.68 L228.32 1278.86 L231.94 1278.05 L235.56 1277.25 L239.17 1276.47 L242.79 1275.7 L246.41 1274.94 L250.03 1274.2 L253.65 1273.47 L257.26 1272.75 L260.88 1272.04 L264.5 1271.35 L268.12 1270.66 L271.73 1269.99 L275.35 1269.34 L278.97 1268.69 L282.59 1268.06 L286.21 1267.44 L289.82 1266.83 L293.44 1266.24 L297.06 1265.66 L300.68 1265.09 L304.29 1264.53 L307.91 1263.98 L311.53 1263.45 L315.15 1262.93 L318.76 1262.43 L322.38 1261.93 L326 1261.45 L329.62 1260.98 L333.24 1260.52 L336.85 1260.08 L340.47 1259.65 L344.09 1259.23 L347.71 1258.82 L351.32 1258.43 L354.94 1258.05 L358.56 1257.68 L362.18 1257.32 L365.8 1256.98 L369.41 1256.64 L373.03 1256.32 L376.65 1256.02 L380.27 1255.72 L383.88 1255.44 L387.5 1255.17 L391.12 1254.92 L394.74 1254.67 L398.36 1254.44 L401.97 1254.22 L405.59 1254.01 L409.21 1253.82 L412.83 1253.64 L416.44 1253.47 L420.06 1253.31 L423.68 1253.17 L427.3 1253.04 L430.92 1252.92 L434.53 1252.81 L438.15 1252.72 L441.77 1252.64 L445.39 1252.57 L449 1252.51 L452.62 1252.47 L456.24 1252.44 L459.86 1252.42 L463.47 1252.41 L467.09 1252.42 L470.71 1252.44 L474.33 1252.47 L477.95 1252.51 L481.56 1252.57 L485.18 1252.64 L488.8 1252.72 L492.42 1252.81 L496.03 1252.92 L499.65 1253.04 L503.27 1253.17 L506.89 1253.31 L510.51 1253.47 L514.12 1253.64 L517.74 1253.82 L521.36 1254.01 L524.98 1254.22 L528.59 1254.44 L532.21 1254.67 L535.83 1254.92 L539.45 1255.17 L543.07 1255.44 L546.68 1255.72 L550.3 1256.02 L553.92 1256.32 L557.54 1256.64 L561.15 1256.98 L564.77 1257.32 L568.39 1257.68 L572.01 1258.05 L575.63 1258.43 L579.24 1258.82 L582.86 1259.23 L586.48 1259.65 L590.1 1260.08 L593.71 1260.52 L597.33 1260.98 L600.95 1261.45 L604.57 1261.93 L608.18 1262.43 L611.8 1262.93 L615.42 1263.45 L619.04 1263.98 L622.66 1264.53 L626.27 1265.09 L629.89 1265.66 L633.51 1266.24 L637.13 1266.83 L640.74 1267.44 L644.36 1268.06 L647.98 1268.69 L651.6 1269.34 L655.22 1269.99 L658.83 1270.66 L662.45 1271.35 L666.07 1272.04 L669.69 1272.75 L673.3 1273.47 L676.92 1274.2 L680.54 1274.94 L684.16 1275.7 L687.78 1276.47 L691.39 1277.25 L695.01 1278.05 L698.63 1278.86 L702.25 1279.68 L705.86 1280.51 L709.48 1281.35 L713.1 1282.21 L716.72 1283.08 L720.34 1283.96 L723.95 1284.86 L727.57 1285.77 L731.19 1286.69 L734.81 1287.62 L738.42 1288.56 L742.04 1289.52 L745.66 1290.49 L749.28 1291.47 L752.89 1292.47 L756.51 1293.48 L760.13 1294.5 L763.75 1295.53 L767.37 1296.57 L770.98 1297.63 L774.6 1298.7 L778.22 1299.78 L781.84 1300.88 L785.45 1301.99 L789.07 1303.11 L792.69 1304.24 L796.31 1305.39 L799.93 1306.54 L803.54 1307.71 L807.16 1308.9 L810.78 1310.09 L814.4 1311.3 L818.01 1312.52 L821.63 1313.75 L825.25 1315" fill="none" stroke="#ffba00" stroke-width="5.94" stroke-linejoin="round" stroke-linecap="butt"/>
<path d="M463.47 1252.41 V764.2" fill="none" stroke="#ffba00" stroke-width="3.6" stroke-dasharray="3.3 2.89" stroke-dashoffset="0"/>
<path d="M101.7 1064.65 L105.32 1064.66 L108.94 1064.68 L112.55 1064.71 L116.17 1064.75 L119.79 1064.81 L123.41 1064.88 L127.02 1064.96 L130.64 1065.05 L134.26 1065.16 L137.88 1065.28 L141.5 1065.41 L145.11 1065.55 L148.73 1065.71 L152.35 1065.88 L155.97 1066.06 L159.58 1066.25 L163.2 1066.46 L166.82 1066.68 L170.44 1066.91 L174.06 1067.15 L177.67 1067.41 L181.29 1067.68 L184.91 1067.96 L188.53 1068.26 L192.14 1068.56 L195.76 1068.88 L199.38 1069.21 L203 1069.56 L206.61 1069.91 L210.23 1070.28 L213.85 1070.66 L217.47 1071.06 L221.09 1071.47 L224.7 1071.89 L228.32 1072.32 L231.94 1072.76 L235.56 1073.22 L239.17 1073.69 L242.79 1074.17 L246.41 1074.66 L250.03 1075.17 L253.65 1075.69 L257.26 1076.22 L260.88 1076.77 L264.5 1077.32 L268.12 1077.89 L271.73 1078.48 L275.35 1079.07 L278.97 1079.68 L282.59 1080.3 L286.21 1080.93 L289.82 1081.57 L293.44 1082.23 L297.06 1082.9 L300.68 1083.58 L304.29 1084.28 L307.91 1084.98 L311.53 1085.7 L315.15 1086.44 L318.76 1087.18 L322.38 1087.94 L326 1088.71 L329.62 1089.49 L333.24 1090.29 L336.85 1091.09 L340.47 1091.91 L344.09 1092.75 L347.71 1093.59 L351.32 1094.45 L354.94 1095.32 L358.56 1096.2 L362.18 1097.1 L365.8 1098 L369.41 1098.92 L373.03 1099.86 L376.65 1100.8 L380.27 1101.76 L383.88 1102.73 L387.5 1103.71 L391.12 1104.71 L394.74 1105.71 L398.36 1106.73 L401.97 1107.77 L405.59 1108.81 L409.21 1109.87 L412.83 1110.94 L416.44 1112.02 L420.06 1113.12 L423.68 1114.23 L427.3 1115.35 L430.92 1116.48 L434.53 1117.62 L438.15 1118.78 L441.77 1119.95 L445.39 1121.14 L449 1122.33 L452.62 1123.54 L456.24 1124.76 L459.86 1125.99 L463.47 1127.24 L467.09 1128.5 L470.71 1129.77 L474.33 1131.05 L477.95 1132.34 L481.56 1133.65 L485.18 1134.97 L488.8 1136.31 L492.42 1137.65 L496.03 1139.01 L499.65 1140.38 L503.27 1141.76 L506.89 1143.16 L510.51 1144.57 L514.12 1145.99 L517.74 1147.42 L521.36 1148.87 L524.98 1150.33 L528.59 1151.8 L532.21 1153.28 L535.83 1154.78 L539.45 1156.28 L543.07 1157.81 L546.68 1159.34 L550.3 1160.88 L553.92 1162.44 L557.54 1164.01 L561.15 1165.6 L564.77 1167.19 L568.39 1168.8 L572.01 1170.42 L575.63 1172.06 L579.24 1173.7 L582.86 1175.36 L586.48 1177.03 L590.1 1178.72 L593.71 1180.41 L597.33 1182.12 L600.95 1183.84 L604.57 1185.58 L608.18 1187.32 L611.8 1189.08 L615.42 1190.85 L619.04 1192.64 L622.66 1194.43 L626.27 1196.24 L629.89 1198.06 L633.51 1199.9 L637.13 1201.74 L640.74 1203.6 L644.36 1205.47 L647.98 1207.36 L651.6 1209.25 L655.22 1211.16 L658.83 1213.08 L662.45 1215.02 L666.07 1216.96 L669.69 1218.92 L673.3 1220.89 L676.92 1222.88 L680.54 1224.87 L684.16 1226.88 L687.78 1228.9 L691.39 1230.94 L695.01 1232.99 L698.63 1235.04 L702.25 1237.12 L705.86 1239.2 L709.48 1241.3 L713.1 1243.41 L716.72 1245.53 L720.34 1247.66 L723.95 1249.81 L727.57 1251.97 L731.19 1254.14 L734.81 1256.32 L738.42 1258.52 L742.04 1260.73 L745.66 1262.95 L749.28 1265.19 L752.89 1267.43 L756.51 1269.69 L760.13 1271.96 L763.75 1274.25 L767.37 1276.55 L770.98 1278.86 L774.6 1281.18 L778.22 1283.51 L781.84 1285.86 L785.45 1288.22 L789.07 1290.59 L792.69 1292.98 L796.31 1295.37 L799.93 1297.78 L803.54 1300.2 L807.16 1302.64 L810.78 1305.09 L814.4 1307.55 L818.01 1310.02 L821.63 1312.5 L825.25 1315" fill="none" stroke="#5cff00" stroke-width="5.28" stroke-linejoin="round" stroke-linecap="butt"/>
<path d="M101.7 1064.65 V764.2" fill="none" stroke="#5cff00" stroke-width="3.6" stroke-dasharray="3.3 2.89" stroke-dashoffset="0"/>
<path d="M101.7 1064.65 L105.32 1067.15 L108.94 1069.63 L112.55 1072.1 L116.17 1074.56 L119.79 1077.01 L123.41 1079.45 L127.02 1081.87 L130.64 1084.28 L134.26 1086.67 L137.88 1089.06 L141.5 1091.43 L145.11 1093.79 L148.73 1096.14 L152.35 1098.47 L155.97 1100.79 L159.58 1103.1 L163.2 1105.4 L166.82 1107.69 L170.44 1109.96 L174.06 1112.22 L177.67 1114.46 L181.29 1116.7 L184.91 1118.92 L188.53 1121.13 L192.14 1123.33 L195.76 1125.51 L199.38 1127.68 L203 1129.84 L206.61 1131.99 L210.23 1134.12 L213.85 1136.24 L217.47 1138.35 L221.09 1140.45 L224.7 1142.53 L228.32 1144.61 L231.94 1146.66 L235.56 1148.71 L239.17 1150.75 L242.79 1152.77 L246.41 1154.78 L250.03 1156.77 L253.65 1158.76 L257.26 1160.73 L260.88 1162.69 L264.5 1164.63 L268.12 1166.57 L271.73 1168.49 L275.35 1170.4 L278.97 1172.29 L282.59 1174.18 L286.21 1176.05 L289.82 1177.91 L293.44 1179.75 L297.06 1181.59 L300.68 1183.41 L304.29 1185.22 L307.91 1187.01 L311.53 1188.8 L315.15 1190.57 L318.76 1192.33 L322.38 1194.07 L326 1195.81 L329.62 1197.53 L333.24 1199.24 L336.85 1200.93 L340.47 1202.62 L344.09 1204.29 L347.71 1205.95 L351.32 1207.59 L354.94 1209.23 L358.56 1210.85 L362.18 1212.46 L365.8 1214.05 L369.41 1215.64 L373.03 1217.21 L376.65 1218.77 L380.27 1220.31 L383.88 1221.84 L387.5 1223.37 L391.12 1224.87 L394.74 1226.37 L398.36 1227.85 L401.97 1229.32 L405.59 1230.78 L409.21 1232.23 L412.83 1233.66 L416.44 1235.08 L420.06 1236.49 L423.68 1237.89 L427.3 1239.27 L430.92 1240.64 L434.53 1242 L438.15 1243.34 L441.77 1244.68 L445.39 1246 L449 1247.31 L452.62 1248.6 L456.24 1249.88 L459.86 1251.15 L463.47 1252.41 L467.09 1253.66 L470.71 1254.89 L474.33 1256.11 L477.95 1257.32 L481.56 1258.51 L485.18 1259.7 L488.8 1260.87 L492.42 1262.03 L496.03 1263.17 L499.65 1264.3 L503.27 1265.42 L506.89 1266.53 L510.51 1267.63 L514.12 1268.71 L517.74 1269.78 L521.36 1270.84 L524.98 1271.88 L528.59 1272.92 L532.21 1273.94 L535.83 1274.94 L539.45 1275.94 L543.07 1276.92 L546.68 1277.89 L550.3 1278.85 L553.92 1279.79 L557.54 1280.73 L561.15 1281.65 L564.77 1282.55 L568.39 1283.45 L572.01 1284.33 L575.63 1285.2 L579.24 1286.06 L582.86 1286.9 L586.48 1287.74 L590.1 1288.56 L593.71 1289.36 L597.33 1290.16 L600.95 1290.94 L604.57 1291.71 L608.18 1292.47 L611.8 1293.21 L615.42 1293.95 L619.04 1294.67 L622.66 1295.37 L626.27 1296.07 L629.89 1296.75 L633.51 1297.42 L637.13 1298.08 L640.74 1298.72 L644.36 1299.35 L647.98 1299.97 L651.6 1300.58 L655.22 1301.17 L658.83 1301.76 L662.45 1302.33 L666.07 1302.88 L669.69 1303.43 L673.3 1303.96 L676.92 1304.48 L680.54 1304.99 L684.16 1305.48 L687.78 1305.96 L691.39 1306.43 L695.01 1306.89 L698.63 1307.33 L702.25 1307.76 L705.86 1308.18 L709.48 1308.59 L713.1 1308.99 L716.72 1309.37 L720.34 1309.74 L723.95 1310.09 L727.57 1310.44 L731.19 1310.77 L734.81 1311.09 L738.42 1311.39 L742.04 1311.69 L745.66 1311.97 L749.28 1312.24 L752.89 1312.5 L756.51 1312.74 L760.13 1312.97 L763.75 1313.19 L767.37 1313.4 L770.98 1313.59 L774.6 1313.77 L778.22 1313.94 L781.84 1314.1 L785.45 1314.24 L789.07 1314.37 L792.69 1314.49 L796.31 1314.6 L799.93 1314.69 L803.54 1314.77 L807.16 1314.84 L810.78 1314.9 L814.4 1314.94 L818.01 1314.97 L821.63 1314.99 L825.25 1315" fill="none" stroke="#00ff8c" stroke-width="4.62" stroke-linejoin="round" stroke-linecap="butt"/>
<path d="M101.7 1064.65 V764.2" fill="none" stroke="#00ff8c" stroke-width="3.6" stroke-dasharray="3.3 2.89" stroke-dashoffset="0"/>
<path d="M101.7 1064.65 L105.32 1065.91 L108.94 1067.18 L112.55 1068.46 L116.17 1069.76 L119.79 1071.06 L123.41 1072.38 L127.02 1073.71 L130.64 1075.05 L134.26 1076.4 L137.88 1077.76 L141.5 1079.13 L145.11 1080.52 L148.73 1081.91 L152.35 1083.32 L155.97 1084.73 L159.58 1086.15 L163.2 1087.58 L166.82 1089.03 L170.44 1090.48 L174.06 1091.94 L177.67 1093.41 L181.29 1094.88 L184.91 1096.37 L188.53 1097.86 L192.14 1099.37 L195.76 1100.88 L199.38 1102.39 L203 1103.92 L206.61 1105.45 L210.23 1106.99 L213.85 1108.54 L217.47 1110.09 L221.09 1111.65 L224.7 1113.21 L228.32 1114.79 L231.94 1116.36 L235.56 1117.95 L239.17 1119.54 L242.79 1121.13 L246.41 1122.73 L250.03 1124.34 L253.65 1125.95 L257.26 1127.56 L260.88 1129.18 L264.5 1130.8 L268.12 1132.43 L271.73 1134.06 L275.35 1135.69 L278.97 1137.33 L282.59 1138.97 L286.21 1140.62 L289.82 1142.26 L293.44 1143.91 L297.06 1145.57 L300.68 1147.22 L304.29 1148.88 L307.91 1150.54 L311.53 1152.2 L315.15 1153.86 L318.76 1155.53 L322.38 1157.19 L326 1158.86 L329.62 1160.53 L333.24 1162.19 L336.85 1163.86 L340.47 1165.53 L344.09 1167.2 L347.71 1168.87 L351.32 1170.54 L354.94 1172.21 L358.56 1173.87 L362.18 1175.54 L365.8 1177.21 L369.41 1178.87 L373.03 1180.53 L376.65 1182.2 L380.27 1183.86 L383.88 1185.51 L387.5 1187.17 L391.12 1188.82 L394.74 1190.47 L398.36 1192.12 L401.97 1193.77 L405.59 1195.41 L409.21 1197.05 L412.83 1198.69 L416.44 1200.32 L420.06 1201.95 L423.68 1203.57 L427.3 1205.19 L430.92 1206.81 L434.53 1208.42 L438.15 1210.02 L441.77 1211.62 L445.39 1213.22 L449 1214.81 L452.62 1216.4 L456.24 1217.98 L459.86 1219.55 L463.47 1221.12 L467.09 1222.68 L470.71 1224.24 L474.33 1225.78 L477.95 1227.33 L481.56 1228.86 L485.18 1230.39 L488.8 1231.91 L492.42 1233.42 L496.03 1234.92 L499.65 1236.42 L503.27 1237.91 L506.89 1239.39 L510.51 1240.86 L514.12 1242.33 L517.74 1243.78 L521.36 1245.22 L524.98 1246.66 L528.59 1248.09 L532.21 1249.5 L535.83 1250.91 L539.45 1252.31 L543.07 1253.69 L546.68 1255.07 L550.3 1256.44 L553.92 1257.79 L557.54 1259.14 L561.15 1260.47 L564.77 1261.79 L568.39 1263.1 L572.01 1264.4 L575.63 1265.68 L579.24 1266.96 L582.86 1268.22 L586.48 1269.47 L590.1 1270.71 L593.71 1271.93 L597.33 1273.14 L600.95 1274.34 L604.57 1275.53 L608.18 1276.7 L611.8 1277.85 L615.42 1279 L619.04 1280.13 L622.66 1281.24 L626.27 1282.34 L629.89 1283.43 L633.51 1284.5 L637.13 1285.55 L640.74 1286.59 L644.36 1287.62 L647.98 1288.63 L651.6 1289.62 L655.22 1290.6 L658.83 1291.56 L662.45 1292.5 L666.07 1293.43 L669.69 1294.34 L673.3 1295.24 L676.92 1296.11 L680.54 1296.97 L684.16 1297.82 L687.78 1298.64 L691.39 1299.45 L695.01 1300.24 L698.63 1301.01 L702.25 1301.76 L705.86 1302.49 L709.48 1303.21 L713.1 1303.9 L716.72 1304.58 L720.34 1305.24 L723.95 1305.87 L727.57 1306.49 L731.19 1307.09 L734.81 1307.67 L738.42 1308.22 L742.04 1308.76 L745.66 1309.27 L749.28 1309.77 L752.89 1310.24 L756.51 1310.7 L760.13 1311.13 L763.75 1311.54 L767.37 1311.92 L770.98 1312.29 L774.6 1312.63 L778.22 1312.95 L781.84 1313.25 L785.45 1313.53 L789.07 1313.78 L792.69 1314.01 L796.31 1314.21 L799.93 1314.4 L803.54 1314.56 L807.16 1314.69 L810.78 1314.8 L814.4 1314.89 L818.01 1314.95 L821.63 1314.99 L825.25 1315" fill="none" stroke="#008fff" stroke-width="3.96" stroke-linejoin="round" stroke-linecap="butt"/>
<path d="M101.7 1064.65 V764.2" fill="none" stroke="#008fff" stroke-width="3.6" stroke-dasharray="3.3 2.89" stroke-dashoffset="0"/>
<path d="M101.7 1315 L105.32 1312.51 L108.94 1310.04 L112.55 1307.6 L116.17 1305.19 L119.79 1302.8 L123.41 1300.43 L127.02 1298.09 L130.64 1295.77 L134.26 1293.48 L137.88 1291.22 L141.5 1288.98 L145.11 1286.76 L148.73 1284.57 L152.35 1282.4 L155.97 1280.26 L159.58 1278.15 L163.2 1276.06 L166.82 1273.99 L170.44 1271.95 L174.06 1269.94 L177.67 1267.95 L181.29 1265.98 L184.91 1264.04 L188.53 1262.13 L192.14 1260.24 L195.76 1258.37 L199.38 1256.53 L203 1254.72 L206.61 1252.93 L210.23 1251.16 L213.85 1249.42 L217.47 1247.71 L221.09 1246.02 L224.7 1244.35 L228.32 1242.71 L231.94 1241.1 L235.56 1239.51 L239.17 1237.94 L242.79 1236.4 L246.41 1234.89 L250.03 1233.4 L253.65 1231.93 L257.26 1230.49 L260.88 1229.08 L264.5 1227.69 L268.12 1226.33 L271.73 1224.99 L275.35 1223.67 L278.97 1222.38 L282.59 1221.12 L286.21 1219.88 L289.82 1218.67 L293.44 1217.48 L297.06 1216.31 L300.68 1215.17 L304.29 1214.06 L307.91 1212.97 L311.53 1211.91 L315.15 1210.87 L318.76 1209.85 L322.38 1208.86 L326 1207.9 L329.62 1206.96 L333.24 1206.05 L336.85 1205.16 L340.47 1204.3 L344.09 1203.46 L347.71 1202.64 L351.32 1201.85 L354.94 1201.09 L358.56 1200.35 L362.18 1199.64 L365.8 1198.95 L369.41 1198.29 L373.03 1197.65 L376.65 1197.04 L380.27 1196.45 L383.88 1195.88 L387.5 1195.35 L391.12 1194.83 L394.74 1194.34 L398.36 1193.88 L401.97 1193.44 L405.59 1193.03 L409.21 1192.64 L412.83 1192.28 L416.44 1191.94 L420.06 1191.63 L423.68 1191.34 L427.3 1191.08 L430.92 1190.84 L434.53 1190.63 L438.15 1190.44 L441.77 1190.28 L445.39 1190.14 L449 1190.03 L452.62 1189.94 L456.24 1189.88 L459.86 1189.84 L463.47 1189.83 L467.09 1189.84 L470.71 1189.88 L474.33 1189.94 L477.95 1190.03 L481.56 1190.14 L485.18 1190.28 L488.8 1190.44 L492.42 1190.63 L496.03 1190.84 L499.65 1191.08 L503.27 1191.34 L506.89 1191.63 L510.51 1191.94 L514.12 1192.28 L517.74 1192.64 L521.36 1193.03 L524.98 1193.44 L528.59 1193.88 L532.21 1194.34 L535.83 1194.83 L539.45 1195.35 L543.07 1195.88 L546.68 1196.45 L550.3 1197.04 L553.92 1197.65 L557.54 1198.29 L561.15 1198.95 L564.77 1199.64 L568.39 1200.35 L572.01 1201.09 L575.63 1201.85 L579.24 1202.64 L582.86 1203.46 L586.48 1204.3 L590.1 1205.16 L593.71 1206.05 L597.33 1206.96 L600.95 1207.9 L604.57 1208.86 L608.18 1209.85 L611.8 1210.87 L615.42 1211.91 L619.04 1212.97 L622.66 1214.06 L626.27 1215.17 L629.89 1216.31 L633.51 1217.48 L637.13 1218.67 L640.74 1219.88 L644.36 1221.12 L647.98 1222.38 L651.6 1223.67 L655.22 1224.99 L658.83 1226.33 L662.45 1227.69 L666.07 1229.08 L669.69 1230.49 L673.3 1231.93 L676.92 1233.4 L680.54 1234.89 L684.16 1236.4 L687.78 1237.94 L691.39 1239.51 L695.01 1241.1 L698.63 1242.71 L702.25 1244.35 L705.86 1246.02 L709.48 1247.71 L713.1 1249.42 L716.72 1251.16 L720.34 1252.93 L723.95 1254.72 L727.57 1256.53 L731.19 1258.37 L734.81 1260.24 L738.42 1262.13 L742.04 1264.04 L745.66 1265.98 L749.28 1267.95 L752.89 1269.94 L756.51 1271.95 L760.13 1273.99 L763.75 1276.06 L767.37 1278.15 L770.98 1280.26 L774.6 1282.4 L778.22 1284.57 L781.84 1286.76 L785.45 1288.98 L789.07 1291.22 L792.69 1293.48 L796.31 1295.77 L799.93 1298.09 L803.54 1300.43 L807.16 1302.8 L810.78 1305.19 L814.4 1307.6 L818.01 1310.04 L821.63 1312.51 L825.25 1315" fill="none" stroke="#5a00ff" stroke-width="3.3" stroke-linejoin="round" stroke-linecap="butt"/>
<path d="M463.47 1189.83 V764.2" fill="none" stroke="#5a00ff" stroke-width="3.6" stroke-dasharray="3.3 2.89" stroke-dashoffset="0"/>
<rect x="94.3" y="764.2" width="738.1" height="550.8" fill="none" stroke="#000" stroke-width="2" stroke-linejoin="round"/>
<path d="M101.7 1315v7.4M94.3 1315h-7.4M246.41 1315v7.4M94.3 1214.86h-7.4M391.12 1315v7.4M94.3 1114.72h-7.4M535.83 1315v7.4M94.3 1014.58h-7.4M680.54 1315v7.4M94.3 914.44h-7.4M825.25 1315v7.4M94.3 814.3h-7.4" stroke="#000" stroke-width="2" fill="none"/>
<text transform="translate(100.3 1346.5) scale(1 1.08)" font-size="20" text-anchor="middle" stroke="#000" stroke-width="0.35" textLength="29.6" lengthAdjust="spacing">0.0</text>
<text transform="translate(76.1 1323.8) scale(1 1.08)" font-size="20" text-anchor="end" stroke="#000" stroke-width="0.35" textLength="42.6" lengthAdjust="spacing">0.00</text>
<text transform="translate(245.01 1346.5) scale(1 1.08)" font-size="20" text-anchor="middle" stroke="#000" stroke-width="0.35" textLength="29.6" lengthAdjust="spacing">0.2</text>
<text transform="translate(76.1 1223.66) scale(1 1.08)" font-size="20" text-anchor="end" stroke="#000" stroke-width="0.35" textLength="42.6" lengthAdjust="spacing">0.05</text>
<text transform="translate(389.72 1346.5) scale(1 1.08)" font-size="20" text-anchor="middle" stroke="#000" stroke-width="0.35" textLength="29.6" lengthAdjust="spacing">0.4</text>
<text transform="translate(76.1 1123.52) scale(1 1.08)" font-size="20" text-anchor="end" stroke="#000" stroke-width="0.35" textLength="42.6" lengthAdjust="spacing">0.10</text>
<text transform="translate(534.43 1346.5) scale(1 1.08)" font-size="20" text-anchor="middle" stroke="#000" stroke-width="0.35" textLength="29.6" lengthAdjust="spacing">0.6</text>
<text transform="translate(76.1 1023.38) scale(1 1.08)" font-size="20" text-anchor="end" stroke="#000" stroke-width="0.35" textLength="42.6" lengthAdjust="spacing">0.15</text>
<text transform="translate(679.14 1346.5) scale(1 1.08)" font-size="20" text-anchor="middle" stroke="#000" stroke-width="0.35" textLength="29.6" lengthAdjust="spacing">0.8</text>
<text transform="translate(76.1 923.24) scale(1 1.08)" font-size="20" text-anchor="end" stroke="#000" stroke-width="0.35" textLength="42.6" lengthAdjust="spacing">0.20</text>
<text transform="translate(823.85 1346.5) scale(1 1.08)" font-size="20" text-anchor="middle" stroke="#000" stroke-width="0.35" textLength="29.6" lengthAdjust="spacing">1.0</text>
<text transform="translate(76.1 823.1) scale(1 1.08)" font-size="20" text-anchor="end" stroke="#000" stroke-width="0.35" textLength="42.6" lengthAdjust="spacing">0.25</text>
<text transform="translate(461.45 1374.5) scale(1 1.05)" font-size="20.8" text-anchor="middle" stroke="#000" stroke-width="0.35" textLength="112.4" lengthAdjust="spacing">GC content</text>
<text transform="translate(21.8 1040.75) rotate(-90)" font-size="20" text-anchor="middle" stroke="#000" stroke-width="0.35" textLength="348" lengthAdjust="spacing">Frequency of amino acid (or stop)</text>
<text x="462.25" y="750.5" font-size="24.5" text-anchor="middle" stroke="#000" stroke-width="0.35" textLength="277" lengthAdjust="spacing"><tspan font-style="italic">Standard</tspan> genetic code</text>
<rect x="845.8" y="770" width="135.7" height="137.8" rx="2.5" fill="#fff" stroke="#cccccc" stroke-width="1.8"/>
<text x="850.5" y="790.8" font-size="20" text-anchor="start" stroke="#000" stroke-width="0.35" textLength="124.5" lengthAdjust="spacing">Amino acids</text>
<path d="M854.9 806.4H879.4" stroke="#ff0029" stroke-width="6.6" fill="none"/>
<text x="889" y="810.8" font-size="10.5" text-anchor="start" stroke="#000" stroke-width="0.3" textLength="48.6" lengthAdjust="spacingAndGlyphs">Arginine</text>
<path d="M854.9 824.3H879.4" stroke="#ffba00" stroke-width="5.94" fill="none"/>
<text x="889" y="828.7" font-size="10.5" text-anchor="start" stroke="#000" stroke-width="0.3" textLength="50.8" lengthAdjust="spacingAndGlyphs">Histidine</text>
<path d="M854.9 842.5H879.4" stroke="#5cff00" stroke-width="5.28" fill="none"/>
<text x="889" y="846.9" font-size="10.5" text-anchor="start" stroke="#000" stroke-width="0.3" textLength="45" lengthAdjust="spacingAndGlyphs">Leucine</text>
<path d="M854.9 860.4H879.4" stroke="#00ff8c" stroke-width="4.62" fill="none"/>
<text x="889" y="864.8" font-size="10.5" text-anchor="start" stroke="#000" stroke-width="0.3" textLength="81.4" lengthAdjust="spacingAndGlyphs">Phenylalanine</text>
<path d="M854.9 878.4H879.4" stroke="#008fff" stroke-width="3.96" fill="none"/>
<text x="889" y="882.8" font-size="10.5" text-anchor="start" stroke="#000" stroke-width="0.3" textLength="25.6" lengthAdjust="spacingAndGlyphs">Stop</text>
<path d="M854.9 896.4H879.4" stroke="#5a00ff" stroke-width="3.3" fill="none"/>
<text x="889" y="900.8" font-size="10.5" text-anchor="start" stroke="#000" stroke-width="0.3" textLength="36" lengthAdjust="spacingAndGlyphs">Valine</text>
</g>
<g id="chart4">
<path d="M1093.9 1314.4 L1097.52 1313.16 L1101.13 1311.92 L1104.75 1310.7 L1108.37 1309.5 L1111.99 1308.3 L1115.6 1307.12 L1119.22 1305.95 L1122.84 1304.79 L1126.45 1303.65 L1130.07 1302.52 L1133.69 1301.4 L1137.3 1300.29 L1140.92 1299.19 L1144.54 1298.11 L1148.15 1297.04 L1151.77 1295.99 L1155.39 1294.94 L1159.01 1293.91 L1162.62 1292.89 L1166.24 1291.88 L1169.86 1290.89 L1173.47 1289.91 L1177.09 1288.94 L1180.71 1287.98 L1184.33 1287.03 L1187.94 1286.1 L1191.56 1285.18 L1195.18 1284.28 L1198.79 1283.38 L1202.41 1282.5 L1206.03 1281.63 L1209.64 1280.77 L1213.26 1279.93 L1216.88 1279.1 L1220.5 1278.28 L1224.11 1277.47 L1227.73 1276.68 L1231.35 1275.89 L1234.96 1275.12 L1238.58 1274.37 L1242.2 1273.62 L1245.81 1272.89 L1249.43 1272.17 L1253.05 1271.47 L1256.66 1270.77 L1260.28 1270.09 L1263.9 1269.42 L1267.52 1268.76 L1271.13 1268.12 L1274.75 1267.49 L1278.37 1266.87 L1281.98 1266.26 L1285.6 1265.67 L1289.22 1265.09 L1292.84 1264.52 L1296.45 1263.96 L1300.07 1263.42 L1303.69 1262.88 L1307.3 1262.36 L1310.92 1261.86 L1314.54 1261.36 L1318.15 1260.88 L1321.77 1260.41 L1325.39 1259.96 L1329.01 1259.51 L1332.62 1259.08 L1336.24 1258.66 L1339.86 1258.26 L1343.47 1257.86 L1347.09 1257.48 L1350.71 1257.11 L1354.32 1256.75 L1357.94 1256.41 L1361.56 1256.08 L1365.18 1255.76 L1368.79 1255.45 L1372.41 1255.16 L1376.03 1254.88 L1379.64 1254.61 L1383.26 1254.35 L1386.88 1254.11 L1390.49 1253.88 L1394.11 1253.66 L1397.73 1253.45 L1401.35 1253.26 L1404.96 1253.08 L1408.58 1252.91 L1412.2 1252.75 L1415.81 1252.61 L1419.43 1252.48 L1423.05 1252.36 L1426.66 1252.25 L1430.28 1252.16 L1433.9 1252.08 L1437.51 1252.01 L1441.13 1251.95 L1444.75 1251.91 L1448.37 1251.88 L1451.98 1251.86 L1455.6 1251.85 L1459.22 1251.86 L1462.83 1251.88 L1466.45 1251.91 L1470.07 1251.95 L1473.68 1252.01 L1477.3 1252.08 L1480.92 1252.16 L1484.54 1252.25 L1488.15 1252.36 L1491.77 1252.48 L1495.39 1252.61 L1499 1252.75 L1502.62 1252.91 L1506.24 1253.08 L1509.86 1253.26 L1513.47 1253.45 L1517.09 1253.66 L1520.71 1253.88 L1524.32 1254.11 L1527.94 1254.35 L1531.56 1254.61 L1535.17 1254.88 L1538.79 1255.16 L1542.41 1255.45 L1546.03 1255.76 L1549.64 1256.08 L1553.26 1256.41 L1556.88 1256.75 L1560.49 1257.11 L1564.11 1257.48 L1567.73 1257.86 L1571.34 1258.26 L1574.96 1258.66 L1578.58 1259.08 L1582.2 1259.51 L1585.81 1259.96 L1589.43 1260.41 L1593.05 1260.88 L1596.66 1261.36 L1600.28 1261.86 L1603.9 1262.36 L1607.51 1262.88 L1611.13 1263.42 L1614.75 1263.96 L1618.37 1264.52 L1621.98 1265.09 L1625.6 1265.67 L1629.22 1266.26 L1632.83 1266.87 L1636.45 1267.49 L1640.07 1268.12 L1643.68 1268.76 L1647.3 1269.42 L1650.92 1270.09 L1654.53 1270.77 L1658.15 1271.47 L1661.77 1272.17 L1665.39 1272.89 L1669 1273.62 L1672.62 1274.37 L1676.24 1275.12 L1679.85 1275.89 L1683.47 1276.68 L1687.09 1277.47 L1690.7 1278.28 L1694.32 1279.1 L1697.94 1279.93 L1701.56 1280.77 L1705.17 1281.63 L1708.79 1282.5 L1712.41 1283.38 L1716.02 1284.28 L1719.64 1285.18 L1723.26 1286.1 L1726.88 1287.03 L1730.49 1287.98 L1734.11 1288.94 L1737.73 1289.91 L1741.34 1290.89 L1744.96 1291.88 L1748.58 1292.89 L1752.19 1293.91 L1755.81 1294.94 L1759.43 1295.99 L1763.05 1297.04 L1766.66 1298.11 L1770.28 1299.19 L1773.9 1300.29 L1777.51 1301.4 L1781.13 1302.52 L1784.75 1303.65 L1788.36 1304.79 L1791.98 1305.95 L1795.6 1307.12 L1799.21 1308.3 L1802.83 1309.5 L1806.45 1310.7 L1810.07 1311.92 L1813.68 1313.16 L1817.3 1314.4" fill="none" stroke="#ff0029" stroke-width="6.6" stroke-linejoin="round" stroke-linecap="butt"/>
<path d="M1455.6 1251.85 V764.2" fill="none" stroke="#ff0029" stroke-width="3.6" stroke-dasharray="3.3 2.89" stroke-dashoffset="0"/>
<path d="M1093.9 1314.4 L1097.52 1314.39 L1101.13 1314.35 L1104.75 1314.29 L1108.37 1314.2 L1111.99 1314.09 L1115.6 1313.95 L1119.22 1313.79 L1122.84 1313.6 L1126.45 1313.39 L1130.07 1313.15 L1133.69 1312.89 L1137.3 1312.6 L1140.92 1312.29 L1144.54 1311.95 L1148.15 1311.59 L1151.77 1311.2 L1155.39 1310.78 L1159.01 1310.35 L1162.62 1309.88 L1166.24 1309.4 L1169.86 1308.88 L1173.47 1308.35 L1177.09 1307.78 L1180.71 1307.19 L1184.33 1306.58 L1187.94 1305.94 L1191.56 1305.28 L1195.18 1304.59 L1198.79 1303.88 L1202.41 1303.14 L1206.03 1302.38 L1209.64 1301.59 L1213.26 1300.78 L1216.88 1299.94 L1220.5 1299.08 L1224.11 1298.19 L1227.73 1297.27 L1231.35 1296.34 L1234.96 1295.37 L1238.58 1294.38 L1242.2 1293.37 L1245.81 1292.33 L1249.43 1291.27 L1253.05 1290.18 L1256.66 1289.07 L1260.28 1287.93 L1263.9 1286.77 L1267.52 1285.58 L1271.13 1284.36 L1274.75 1283.12 L1278.37 1281.86 L1281.98 1280.57 L1285.6 1279.26 L1289.22 1277.92 L1292.84 1276.56 L1296.45 1275.17 L1300.07 1273.76 L1303.69 1272.32 L1307.3 1270.85 L1310.92 1269.36 L1314.54 1267.85 L1318.15 1266.31 L1321.77 1264.75 L1325.39 1263.16 L1329.01 1261.55 L1332.62 1259.91 L1336.24 1258.24 L1339.86 1256.55 L1343.47 1254.84 L1347.09 1253.1 L1350.71 1251.34 L1354.32 1249.55 L1357.94 1247.73 L1361.56 1245.9 L1365.18 1244.03 L1368.79 1242.14 L1372.41 1240.23 L1376.03 1238.29 L1379.64 1236.33 L1383.26 1234.34 L1386.88 1232.32 L1390.49 1230.28 L1394.11 1228.22 L1397.73 1226.13 L1401.35 1224.02 L1404.96 1221.88 L1408.58 1219.71 L1412.2 1217.52 L1415.81 1215.31 L1419.43 1213.07 L1423.05 1210.8 L1426.66 1208.52 L1430.28 1206.2 L1433.9 1203.86 L1437.51 1201.5 L1441.13 1199.11 L1444.75 1196.69 L1448.37 1194.25 L1451.98 1191.79 L1455.6 1189.3 L1459.22 1186.79 L1462.83 1184.25 L1466.45 1181.68 L1470.07 1179.09 L1473.68 1176.48 L1477.3 1173.84 L1480.92 1171.17 L1484.54 1168.48 L1488.15 1165.77 L1491.77 1163.03 L1495.39 1160.26 L1499 1157.47 L1502.62 1154.66 L1506.24 1151.82 L1509.86 1148.96 L1513.47 1146.07 L1517.09 1143.15 L1520.71 1140.21 L1524.32 1137.25 L1527.94 1134.26 L1531.56 1131.24 L1535.17 1128.2 L1538.79 1125.14 L1542.41 1122.05 L1546.03 1118.93 L1549.64 1115.79 L1553.26 1112.63 L1556.88 1109.44 L1560.49 1106.22 L1564.11 1102.98 L1567.73 1099.72 L1571.34 1096.43 L1574.96 1093.11 L1578.58 1089.77 L1582.2 1086.41 L1585.81 1083.02 L1589.43 1079.6 L1593.05 1076.16 L1596.66 1072.69 L1600.28 1069.2 L1603.9 1065.69 L1607.51 1062.15 L1611.13 1058.58 L1614.75 1054.99 L1618.37 1051.38 L1621.98 1047.74 L1625.6 1044.07 L1629.22 1040.38 L1632.83 1036.67 L1636.45 1032.93 L1640.07 1029.16 L1643.68 1025.37 L1647.3 1021.55 L1650.92 1017.71 L1654.53 1013.85 L1658.15 1009.96 L1661.77 1006.04 L1665.39 1002.1 L1669 998.13 L1672.62 994.14 L1676.24 990.13 L1679.85 986.09 L1683.47 982.02 L1687.09 977.93 L1690.7 973.82 L1694.32 969.67 L1697.94 965.51 L1701.56 961.32 L1705.17 957.1 L1708.79 952.86 L1712.41 948.6 L1716.02 944.3 L1719.64 939.99 L1723.26 935.65 L1726.88 931.28 L1730.49 926.89 L1734.11 922.47 L1737.73 918.03 L1741.34 913.57 L1744.96 909.08 L1748.58 904.56 L1752.19 900.02 L1755.81 895.45 L1759.43 890.86 L1763.05 886.25 L1766.66 881.6 L1770.28 876.94 L1773.9 872.25 L1777.51 867.53 L1781.13 862.79 L1784.75 858.02 L1788.36 853.23 L1791.98 848.42 L1795.6 843.57 L1799.21 838.71 L1802.83 833.82 L1806.45 828.9 L1810.07 823.96 L1813.68 818.99 L1817.3 814" fill="none" stroke="#ffea00" stroke-width="5.77" stroke-linejoin="round" stroke-linecap="butt"/>
<path d="M1817.3 814 V764.2" fill="none" stroke="#ffea00" stroke-width="3.6" stroke-dasharray="3.3 2.89" stroke-dashoffset="0"/>
<path d="M1093.9 1314.4 L1097.52 1314.39 L1101.13 1314.38 L1104.75 1314.34 L1108.37 1314.3 L1111.99 1314.25 L1115.6 1314.18 L1119.22 1314.1 L1122.84 1314.02 L1126.45 1313.92 L1130.07 1313.81 L1133.69 1313.68 L1137.3 1313.55 L1140.92 1313.41 L1144.54 1313.26 L1148.15 1313.1 L1151.77 1312.93 L1155.39 1312.75 L1159.01 1312.56 L1162.62 1312.36 L1166.24 1312.15 L1169.86 1311.93 L1173.47 1311.71 L1177.09 1311.47 L1180.71 1311.23 L1184.33 1310.98 L1187.94 1310.72 L1191.56 1310.46 L1195.18 1310.18 L1198.79 1309.9 L1202.41 1309.61 L1206.03 1309.32 L1209.64 1309.02 L1213.26 1308.71 L1216.88 1308.4 L1220.5 1308.08 L1224.11 1307.75 L1227.73 1307.42 L1231.35 1307.08 L1234.96 1306.74 L1238.58 1306.39 L1242.2 1306.04 L1245.81 1305.68 L1249.43 1305.32 L1253.05 1304.95 L1256.66 1304.58 L1260.28 1304.21 L1263.9 1303.83 L1267.52 1303.45 L1271.13 1303.06 L1274.75 1302.67 L1278.37 1302.28 L1281.98 1301.88 L1285.6 1301.49 L1289.22 1301.09 L1292.84 1300.68 L1296.45 1300.28 L1300.07 1299.87 L1303.69 1299.46 L1307.3 1299.05 L1310.92 1298.64 L1314.54 1298.22 L1318.15 1297.81 L1321.77 1297.39 L1325.39 1296.98 L1329.01 1296.56 L1332.62 1296.14 L1336.24 1295.73 L1339.86 1295.31 L1343.47 1294.89 L1347.09 1294.48 L1350.71 1294.06 L1354.32 1293.65 L1357.94 1293.23 L1361.56 1292.82 L1365.18 1292.41 L1368.79 1292 L1372.41 1291.59 L1376.03 1291.19 L1379.64 1290.78 L1383.26 1290.38 L1386.88 1289.98 L1390.49 1289.59 L1394.11 1289.19 L1397.73 1288.8 L1401.35 1288.41 L1404.96 1288.03 L1408.58 1287.65 L1412.2 1287.27 L1415.81 1286.9 L1419.43 1286.53 L1423.05 1286.17 L1426.66 1285.81 L1430.28 1285.46 L1433.9 1285.11 L1437.51 1284.76 L1441.13 1284.42 L1444.75 1284.09 L1448.37 1283.76 L1451.98 1283.44 L1455.6 1283.12 L1459.22 1282.82 L1462.83 1282.51 L1466.45 1282.22 L1470.07 1281.93 L1473.68 1281.64 L1477.3 1281.37 L1480.92 1281.1 L1484.54 1280.84 L1488.15 1280.59 L1491.77 1280.34 L1495.39 1280.1 L1499 1279.88 L1502.62 1279.66 L1506.24 1279.45 L1509.86 1279.24 L1513.47 1279.05 L1517.09 1278.87 L1520.71 1278.69 L1524.32 1278.53 L1527.94 1278.37 L1531.56 1278.23 L1535.17 1278.09 L1538.79 1277.97 L1542.41 1277.85 L1546.03 1277.75 L1549.64 1277.66 L1553.26 1277.58 L1556.88 1277.51 L1560.49 1277.45 L1564.11 1277.4 L1567.73 1277.37 L1571.34 1277.34 L1574.96 1277.33 L1578.58 1277.34 L1582.2 1277.35 L1585.81 1277.38 L1589.43 1277.42 L1593.05 1277.47 L1596.66 1277.54 L1600.28 1277.62 L1603.9 1277.72 L1607.51 1277.82 L1611.13 1277.95 L1614.75 1278.08 L1618.37 1278.23 L1621.98 1278.4 L1625.6 1278.58 L1629.22 1278.78 L1632.83 1278.99 L1636.45 1279.22 L1640.07 1279.46 L1643.68 1279.72 L1647.3 1279.99 L1650.92 1280.28 L1654.53 1280.59 L1658.15 1280.91 L1661.77 1281.25 L1665.39 1281.61 L1669 1281.98 L1672.62 1282.37 L1676.24 1282.78 L1679.85 1283.21 L1683.47 1283.66 L1687.09 1284.12 L1690.7 1284.6 L1694.32 1285.1 L1697.94 1285.62 L1701.56 1286.15 L1705.17 1286.71 L1708.79 1287.28 L1712.41 1287.88 L1716.02 1288.49 L1719.64 1289.13 L1723.26 1289.78 L1726.88 1290.46 L1730.49 1291.15 L1734.11 1291.86 L1737.73 1292.6 L1741.34 1293.36 L1744.96 1294.13 L1748.58 1294.93 L1752.19 1295.75 L1755.81 1296.59 L1759.43 1297.46 L1763.05 1298.34 L1766.66 1299.25 L1770.28 1300.18 L1773.9 1301.14 L1777.51 1302.11 L1781.13 1303.11 L1784.75 1304.13 L1788.36 1305.18 L1791.98 1306.25 L1795.6 1307.34 L1799.21 1308.45 L1802.83 1309.59 L1806.45 1310.76 L1810.07 1311.95 L1813.68 1313.16 L1817.3 1314.4" fill="none" stroke="#00ff00" stroke-width="4.95" stroke-linejoin="round" stroke-linecap="butt"/>
<path d="M1576.17 1277.33 V764.2" fill="none" stroke="#00ff00" stroke-width="3.6" stroke-dasharray="3.3 2.89" stroke-dashoffset="0"/>
<path d="M1093.9 1064.2 L1097.52 1066.7 L1101.13 1069.18 L1104.75 1071.65 L1108.37 1074.11 L1111.99 1076.55 L1115.6 1078.99 L1119.22 1081.41 L1122.84 1083.82 L1126.45 1086.21 L1130.07 1088.59 L1133.69 1090.97 L1137.3 1093.32 L1140.92 1095.67 L1144.54 1098 L1148.15 1100.32 L1151.77 1102.63 L1155.39 1104.93 L1159.01 1107.21 L1162.62 1109.48 L1166.24 1111.74 L1169.86 1113.98 L1173.47 1116.22 L1177.09 1118.44 L1180.71 1120.65 L1184.33 1122.84 L1187.94 1125.02 L1191.56 1127.19 L1195.18 1129.35 L1198.79 1131.5 L1202.41 1133.63 L1206.03 1135.75 L1209.64 1137.86 L1213.26 1139.95 L1216.88 1142.04 L1220.5 1144.11 L1224.11 1146.17 L1227.73 1148.21 L1231.35 1150.24 L1234.96 1152.26 L1238.58 1154.27 L1242.2 1156.27 L1245.81 1158.25 L1249.43 1160.22 L1253.05 1162.18 L1256.66 1164.12 L1260.28 1166.06 L1263.9 1167.98 L1267.52 1169.88 L1271.13 1171.78 L1274.75 1173.66 L1278.37 1175.53 L1281.98 1177.39 L1285.6 1179.24 L1289.22 1181.07 L1292.84 1182.89 L1296.45 1184.7 L1300.07 1186.49 L1303.69 1188.27 L1307.3 1190.04 L1310.92 1191.8 L1314.54 1193.55 L1318.15 1195.28 L1321.77 1197 L1325.39 1198.71 L1329.01 1200.4 L1332.62 1202.09 L1336.24 1203.76 L1339.86 1205.41 L1343.47 1207.06 L1347.09 1208.69 L1350.71 1210.31 L1354.32 1211.92 L1357.94 1213.51 L1361.56 1215.1 L1365.18 1216.67 L1368.79 1218.22 L1372.41 1219.77 L1376.03 1221.3 L1379.64 1222.82 L1383.26 1224.33 L1386.88 1225.82 L1390.49 1227.31 L1394.11 1228.78 L1397.73 1230.23 L1401.35 1231.68 L1404.96 1233.11 L1408.58 1234.53 L1412.2 1235.94 L1415.81 1237.33 L1419.43 1238.71 L1423.05 1240.08 L1426.66 1241.44 L1430.28 1242.79 L1433.9 1244.12 L1437.51 1245.44 L1441.13 1246.75 L1444.75 1248.04 L1448.37 1249.32 L1451.98 1250.59 L1455.6 1251.85 L1459.22 1253.09 L1462.83 1254.33 L1466.45 1255.55 L1470.07 1256.75 L1473.68 1257.95 L1477.3 1259.13 L1480.92 1260.3 L1484.54 1261.46 L1488.15 1262.6 L1491.77 1263.73 L1495.39 1264.85 L1499 1265.96 L1502.62 1267.06 L1506.24 1268.14 L1509.86 1269.21 L1513.47 1270.26 L1517.09 1271.31 L1520.71 1272.34 L1524.32 1273.36 L1527.94 1274.37 L1531.56 1275.36 L1535.17 1276.34 L1538.79 1277.31 L1542.41 1278.27 L1546.03 1279.22 L1549.64 1280.15 L1553.26 1281.07 L1556.88 1281.97 L1560.49 1282.87 L1564.11 1283.75 L1567.73 1284.62 L1571.34 1285.48 L1574.96 1286.32 L1578.58 1287.15 L1582.2 1287.97 L1585.81 1288.78 L1589.43 1289.57 L1593.05 1290.36 L1596.66 1291.13 L1600.28 1291.88 L1603.9 1292.63 L1607.51 1293.36 L1611.13 1294.08 L1614.75 1294.78 L1618.37 1295.48 L1621.98 1296.16 L1625.6 1296.83 L1629.22 1297.49 L1632.83 1298.13 L1636.45 1298.76 L1640.07 1299.38 L1643.68 1299.99 L1647.3 1300.58 L1650.92 1301.16 L1654.53 1301.73 L1658.15 1302.29 L1661.77 1302.83 L1665.39 1303.37 L1669 1303.89 L1672.62 1304.39 L1676.24 1304.89 L1679.85 1305.37 L1683.47 1305.84 L1687.09 1306.29 L1690.7 1306.74 L1694.32 1307.17 L1697.94 1307.59 L1701.56 1307.99 L1705.17 1308.39 L1708.79 1308.77 L1712.41 1309.14 L1716.02 1309.5 L1719.64 1309.84 L1723.26 1310.17 L1726.88 1310.49 L1730.49 1310.8 L1734.11 1311.09 L1737.73 1311.37 L1741.34 1311.64 L1744.96 1311.9 L1748.58 1312.14 L1752.19 1312.37 L1755.81 1312.59 L1759.43 1312.8 L1763.05 1312.99 L1766.66 1313.17 L1770.28 1313.34 L1773.9 1313.5 L1777.51 1313.64 L1781.13 1313.77 L1784.75 1313.89 L1788.36 1314 L1791.98 1314.09 L1795.6 1314.17 L1799.21 1314.24 L1802.83 1314.3 L1806.45 1314.34 L1810.07 1314.37 L1813.68 1314.39 L1817.3 1314.4" fill="none" stroke="#00ecff" stroke-width="4.12" stroke-linejoin="round" stroke-linecap="butt"/>
<path d="M1093.9 1064.2 V764.2" fill="none" stroke="#00ecff" stroke-width="3.6" stroke-dasharray="3.3 2.89" stroke-dashoffset="0"/>
<path d="M1093.9 1314.4 L1097.52 1313.16 L1101.13 1311.92 L1104.75 1310.7 L1108.37 1309.5 L1111.99 1308.3 L1115.6 1307.12 L1119.22 1305.95 L1122.84 1304.79 L1126.45 1303.65 L1130.07 1302.52 L1133.69 1301.4 L1137.3 1300.29 L1140.92 1299.19 L1144.54 1298.11 L1148.15 1297.04 L1151.77 1295.99 L1155.39 1294.94 L1159.01 1293.91 L1162.62 1292.89 L1166.24 1291.88 L1169.86 1290.89 L1173.47 1289.91 L1177.09 1288.94 L1180.71 1287.98 L1184.33 1287.03 L1187.94 1286.1 L1191.56 1285.18 L1195.18 1284.28 L1198.79 1283.38 L1202.41 1282.5 L1206.03 1281.63 L1209.64 1280.77 L1213.26 1279.93 L1216.88 1279.1 L1220.5 1278.28 L1224.11 1277.47 L1227.73 1276.68 L1231.35 1275.89 L1234.96 1275.12 L1238.58 1274.37 L1242.2 1273.62 L1245.81 1272.89 L1249.43 1272.17 L1253.05 1271.47 L1256.66 1270.77 L1260.28 1270.09 L1263.9 1269.42 L1267.52 1268.76 L1271.13 1268.12 L1274.75 1267.49 L1278.37 1266.87 L1281.98 1266.26 L1285.6 1265.67 L1289.22 1265.09 L1292.84 1264.52 L1296.45 1263.96 L1300.07 1263.42 L1303.69 1262.88 L1307.3 1262.36 L1310.92 1261.86 L1314.54 1261.36 L1318.15 1260.88 L1321.77 1260.41 L1325.39 1259.96 L1329.01 1259.51 L1332.62 1259.08 L1336.24 1258.66 L1339.86 1258.26 L1343.47 1257.86 L1347.09 1257.48 L1350.71 1257.11 L1354.32 1256.75 L1357.94 1256.41 L1361.56 1256.08 L1365.18 1255.76 L1368.79 1255.45 L1372.41 1255.16 L1376.03 1254.88 L1379.64 1254.61 L1383.26 1254.35 L1386.88 1254.11 L1390.49 1253.88 L1394.11 1253.66 L1397.73 1253.45 L1401.35 1253.26 L1404.96 1253.08 L1408.58 1252.91 L1412.2 1252.75 L1415.81 1252.61 L1419.43 1252.48 L1423.05 1252.36 L1426.66 1252.25 L1430.28 1252.16 L1433.9 1252.08 L1437.51 1252.01 L1441.13 1251.95 L1444.75 1251.91 L1448.37 1251.88 L1451.98 1251.86 L1455.6 1251.85 L1459.22 1251.86 L1462.83 1251.88 L1466.45 1251.91 L1470.07 1251.95 L1473.68 1252.01 L1477.3 1252.08 L1480.92 1252.16 L1484.54 1252.25 L1488.15 1252.36 L1491.77 1252.48 L1495.39 1252.61 L1499 1252.75 L1502.62 1252.91 L1506.24 1253.08 L1509.86 1253.26 L1513.47 1253.45 L1517.09 1253.66 L1520.71 1253.88 L1524.32 1254.11 L1527.94 1254.35 L1531.56 1254.61 L1535.17 1254.88 L1538.79 1255.16 L1542.41 1255.45 L1546.03 1255.76 L1549.64 1256.08 L1553.26 1256.41 L1556.88 1256.75 L1560.49 1257.11 L1564.11 1257.48 L1567.73 1257.86 L1571.34 1258.26 L1574.96 1258.66 L1578.58 1259.08 L1582.2 1259.51 L1585.81 1259.96 L1589.43 1260.41 L1593.05 1260.88 L1596.66 1261.36 L1600.28 1261.86 L1603.9 1262.36 L1607.51 1262.88 L1611.13 1263.42 L1614.75 1263.96 L1618.37 1264.52 L1621.98 1265.09 L1625.6 1265.67 L1629.22 1266.26 L1632.83 1266.87 L1636.45 1267.49 L1640.07 1268.12 L1643.68 1268.76 L1647.3 1269.42 L1650.92 1270.09 L1654.53 1270.77 L1658.15 1271.47 L1661.77 1272.17 L1665.39 1272.89 L1669 1273.62 L1672.62 1274.37 L1676.24 1275.12 L1679.85 1275.89 L1683.47 1276.68 L1687.09 1277.47 L1690.7 1278.28 L1694.32 1279.1 L1697.94 1279.93 L1701.56 1280.77 L1705.17 1281.63 L1708.79 1282.5 L1712.41 1283.38 L1716.02 1284.28 L1719.64 1285.18 L1723.26 1286.1 L1726.88 1287.03 L1730.49 1287.98 L1734.11 1288.94 L1737.73 1289.91 L1741.34 1290.89 L1744.96 1291.88 L1748.58 1292.89 L1752.19 1293.91 L1755.81 1294.94 L1759.43 1295.99 L1763.05 1297.04 L1766.66 1298.11 L1770.28 1299.19 L1773.9 1300.29 L1777.51 1301.4 L1781.13 1302.52 L1784.75 1303.65 L1788.36 1304.79 L1791.98 1305.95 L1795.6 1307.12 L1799.21 1308.3 L1802.83 1309.5 L1806.45 1310.7 L1810.07 1311.92 L1813.68 1313.16 L1817.3 1314.4" fill="none" stroke="#2a00ff" stroke-width="3.3" stroke-linejoin="round" stroke-linecap="butt"/>
<path d="M1455.6 1251.85 V764.2" fill="none" stroke="#2a00ff" stroke-width="3.6" stroke-dasharray="3.3 2.89" stroke-dashoffset="0"/>
<rect x="1086.6" y="764.2" width="738.3" height="550.2" fill="none" stroke="#000" stroke-width="2" stroke-linejoin="round"/>
<path d="M1093.9 1314.4v7.4M1086.6 1314.4h-7.4M1238.58 1314.4v7.4M1086.6 1214.32h-7.4M1383.26 1314.4v7.4M1086.6 1114.24h-7.4M1527.94 1314.4v7.4M1086.6 1014.16h-7.4M1672.62 1314.4v7.4M1086.6 914.08h-7.4M1817.3 1314.4v7.4M1086.6 814h-7.4" stroke="#000" stroke-width="2" fill="none"/>
<text transform="translate(1092.5 1345.87) scale(1 1.08)" font-size="20" text-anchor="middle" stroke="#000" stroke-width="0.35" textLength="29.6" lengthAdjust="spacing">0.0</text>
<text transform="translate(1068.4 1323.2) scale(1 1.08)" font-size="20" text-anchor="end" stroke="#000" stroke-width="0.35" textLength="42.6" lengthAdjust="spacing">0.00</text>
<text transform="translate(1237.18 1345.87) scale(1 1.08)" font-size="20" text-anchor="middle" stroke="#000" stroke-width="0.35" textLength="29.6" lengthAdjust="spacing">0.2</text>
<text transform="translate(1068.4 1223.12) scale(1 1.08)" font-size="20" text-anchor="end" stroke="#000" stroke-width="0.35" textLength="42.6" lengthAdjust="spacing">0.05</text>
<text transform="translate(1381.86 1345.87) scale(1 1.08)" font-size="20" text-anchor="middle" stroke="#000" stroke-width="0.35" textLength="29.6" lengthAdjust="spacing">0.4</text>
<text transform="translate(1068.4 1123.04) scale(1 1.08)" font-size="20" text-anchor="end" stroke="#000" stroke-width="0.35" textLength="42.6" lengthAdjust="spacing">0.10</text>
<text transform="translate(1526.54 1345.87) scale(1 1.08)" font-size="20" text-anchor="middle" stroke="#000" stroke-width="0.35" textLength="29.6" lengthAdjust="spacing">0.6</text>
<text transform="translate(1068.4 1022.96) scale(1 1.08)" font-size="20" text-anchor="end" stroke="#000" stroke-width="0.35" textLength="42.6" lengthAdjust="spacing">0.15</text>
<text transform="translate(1671.22 1345.87) scale(1 1.08)" font-size="20" text-anchor="middle" stroke="#000" stroke-width="0.35" textLength="29.6" lengthAdjust="spacing">0.8</text>
<text transform="translate(1068.4 922.88) scale(1 1.08)" font-size="20" text-anchor="end" stroke="#000" stroke-width="0.35" textLength="42.6" lengthAdjust="spacing">0.20</text>
<text transform="translate(1815.9 1345.87) scale(1 1.08)" font-size="20" text-anchor="middle" stroke="#000" stroke-width="0.35" textLength="29.6" lengthAdjust="spacing">1.0</text>
<text transform="translate(1068.4 822.8) scale(1 1.08)" font-size="20" text-anchor="end" stroke="#000" stroke-width="0.35" textLength="42.6" lengthAdjust="spacing">0.25</text>
<text transform="translate(1453.85 1373.84) scale(1 1.05)" font-size="20.8" text-anchor="middle" stroke="#000" stroke-width="0.35" textLength="112.4" lengthAdjust="spacing">GC content</text>
<text transform="translate(1014.1 1040.45) rotate(-90)" font-size="20" text-anchor="middle" stroke="#000" stroke-width="0.35" textLength="347.62" lengthAdjust="spacing">Frequency of amino acid (or stop)</text>
<text x="1454.65" y="750.51" font-size="24.5" text-anchor="middle" stroke="#000" stroke-width="0.35" textLength="277" lengthAdjust="spacing"><tspan font-style="italic">Standard</tspan> genetic code</text>
<rect x="1837.7" y="770" width="136" height="120" rx="2.5" fill="#fff" stroke="#cccccc" stroke-width="1.8"/>
<text x="1842.6" y="790.8" font-size="20" text-anchor="start" stroke="#000" stroke-width="0.35" textLength="124.6" lengthAdjust="spacing">Amino acids</text>
<path d="M1847.1 806.4H1871.1" stroke="#ff0029" stroke-width="6.6" fill="none"/>
<text x="1880.9" y="810.8" font-size="10.5" text-anchor="start" stroke="#000" stroke-width="0.3" textLength="81.7" lengthAdjust="spacingAndGlyphs">Glutamic_acid</text>
<path d="M1847.1 824.7H1871.1" stroke="#ffea00" stroke-width="5.77" fill="none"/>
<text x="1880.9" y="829.1" font-size="10.5" text-anchor="start" stroke="#000" stroke-width="0.3" textLength="39.5" lengthAdjust="spacingAndGlyphs">Proline</text>
<path d="M1847.1 842.8H1871.1" stroke="#00ff00" stroke-width="4.95" fill="none"/>
<text x="1880.9" y="847.2" font-size="10.5" text-anchor="start" stroke="#000" stroke-width="0.3" textLength="73.9" lengthAdjust="spacingAndGlyphs">Tryptophane</text>
<path d="M1847.1 860.7H1871.1" stroke="#00ecff" stroke-width="4.12" fill="none"/>
<text x="1880.9" y="865.1" font-size="10.5" text-anchor="start" stroke="#000" stroke-width="0.3" textLength="49.6" lengthAdjust="spacingAndGlyphs">Tyrosine</text>
<path d="M1847.1 878.7H1871.1" stroke="#2a00ff" stroke-width="3.3" fill="none"/>
<text x="1880.9" y="883.1" font-size="10.5" text-anchor="start" stroke="#000" stroke-width="0.3" textLength="60.3" lengthAdjust="spacingAndGlyphs">Glutamine</text>
</g>
</svg>
</body>
</html>
